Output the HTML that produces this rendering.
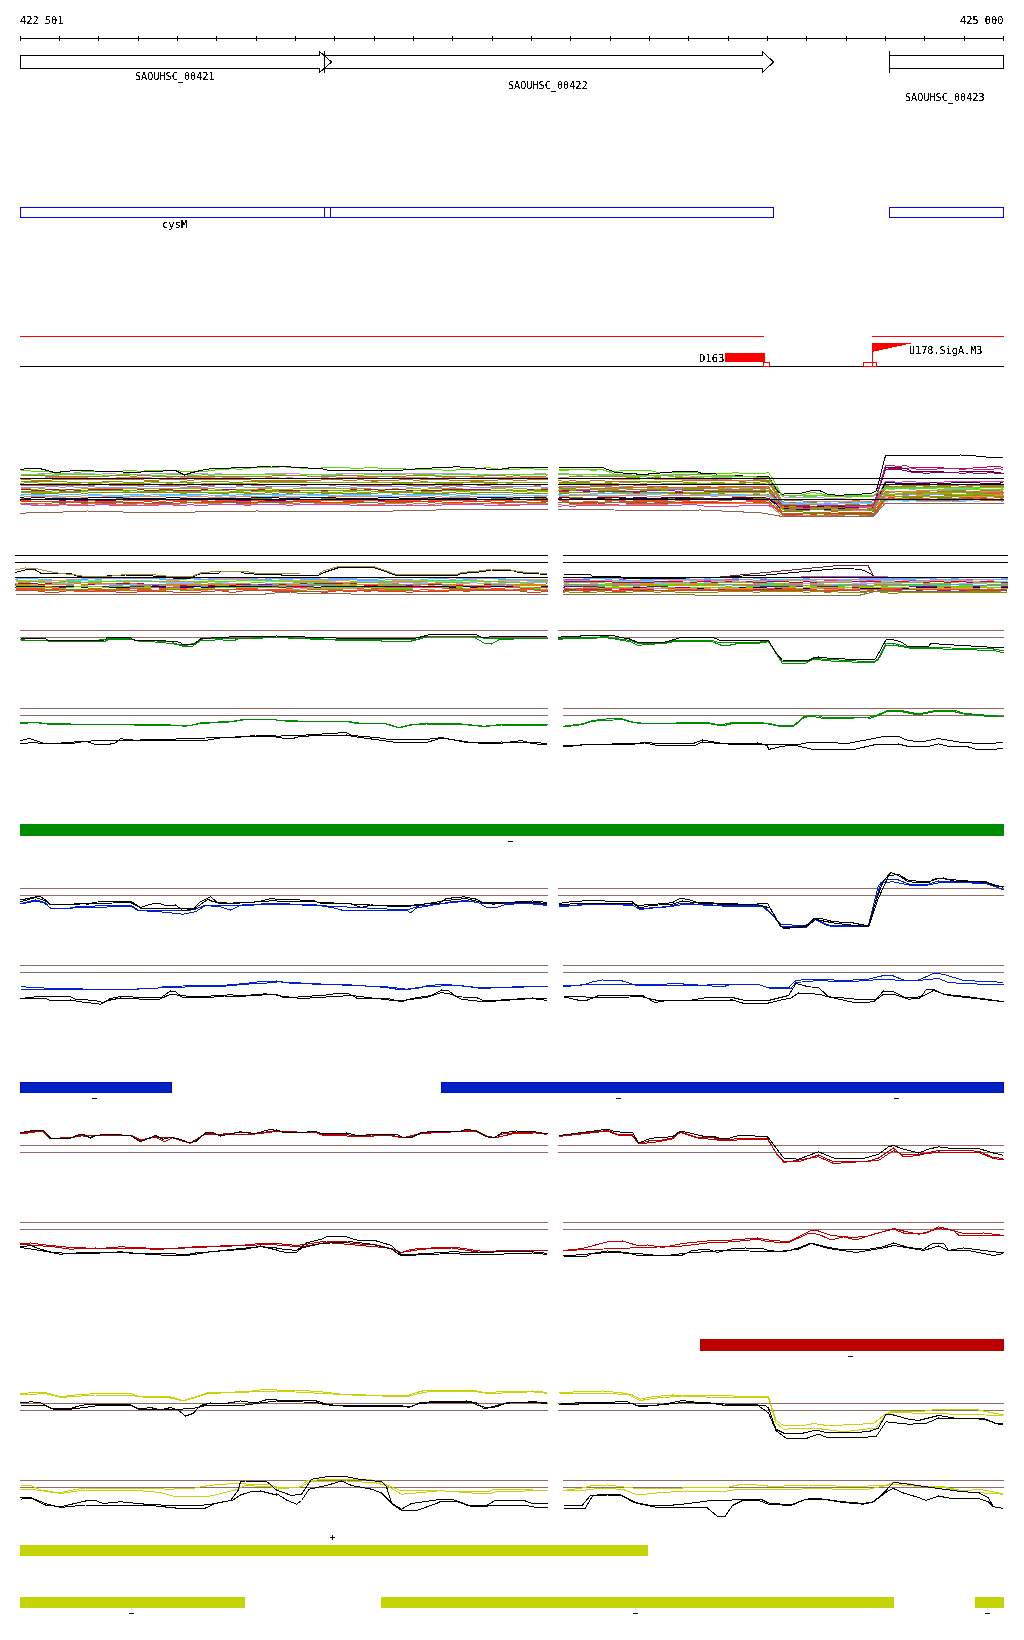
<!DOCTYPE html>
<html><head><meta charset="utf-8"><title>Genome browser</title>
<style>
html,body{margin:0;padding:0;background:#fff;}
svg{display:block;}
text{font-family:"DejaVu Sans Mono","Liberation Mono",monospace;font-size:11px;}
</style></head>
<body>
<svg width="1024" height="1640" viewBox="0 0 1024 1640" shape-rendering="crispEdges">
<defs><filter id="crisp" x="-10%" y="-30%" width="120%" height="160%"><feComponentTransfer><feFuncA type="discrete" tableValues="0 0 1 1 1"/></feComponentTransfer></filter></defs>
<rect width="1024" height="1640" fill="#fff"/>
<text x="20" y="24" textLength="43.5" lengthAdjust="spacingAndGlyphs" fill="#000" filter="url(#crisp)">422 501</text>
<text x="960" y="24" textLength="43.5" lengthAdjust="spacingAndGlyphs" fill="#000" filter="url(#crisp)">425 000</text>
<line x1="20" y1="38.5" x2="1004" y2="38.5" stroke="#000" stroke-width="1"/>
<line x1="20.5" y1="36" x2="20.5" y2="41" stroke="#000"/>
<line x1="59.5" y1="36" x2="59.5" y2="41" stroke="#000"/>
<line x1="98.5" y1="36" x2="98.5" y2="41" stroke="#000"/>
<line x1="138.5" y1="36" x2="138.5" y2="41" stroke="#000"/>
<line x1="177.5" y1="36" x2="177.5" y2="41" stroke="#000"/>
<line x1="216.5" y1="36" x2="216.5" y2="41" stroke="#000"/>
<line x1="256.5" y1="36" x2="256.5" y2="41" stroke="#000"/>
<line x1="295.5" y1="36" x2="295.5" y2="41" stroke="#000"/>
<line x1="334.5" y1="36" x2="334.5" y2="41" stroke="#000"/>
<line x1="374.5" y1="36" x2="374.5" y2="41" stroke="#000"/>
<line x1="413.5" y1="36" x2="413.5" y2="41" stroke="#000"/>
<line x1="452.5" y1="36" x2="452.5" y2="41" stroke="#000"/>
<line x1="492.5" y1="36" x2="492.5" y2="41" stroke="#000"/>
<line x1="531.5" y1="36" x2="531.5" y2="41" stroke="#000"/>
<line x1="570.5" y1="36" x2="570.5" y2="41" stroke="#000"/>
<line x1="610.5" y1="36" x2="610.5" y2="41" stroke="#000"/>
<line x1="649.5" y1="36" x2="649.5" y2="41" stroke="#000"/>
<line x1="688.5" y1="36" x2="688.5" y2="41" stroke="#000"/>
<line x1="728.5" y1="36" x2="728.5" y2="41" stroke="#000"/>
<line x1="767.5" y1="36" x2="767.5" y2="41" stroke="#000"/>
<line x1="806.5" y1="36" x2="806.5" y2="41" stroke="#000"/>
<line x1="846.5" y1="36" x2="846.5" y2="41" stroke="#000"/>
<line x1="885.5" y1="36" x2="885.5" y2="41" stroke="#000"/>
<line x1="924.5" y1="36" x2="924.5" y2="41" stroke="#000"/>
<line x1="964.5" y1="36" x2="964.5" y2="41" stroke="#000"/>
<line x1="1003.5" y1="36" x2="1003.5" y2="41" stroke="#000"/>
<polygon points="20.5,55.5 319.5,55.5 319.5,51.5 331.5,62 319.5,72.5 319.5,68.5 20.5,68.5" fill="none" stroke="#000"/>
<polyline points="324.5,55.5 762.5,55.5 762.5,51.5 773.5,62 762.5,72.5 762.5,68.5 324.5,68.5" fill="none" stroke="#000"/>
<line x1="324.5" y1="51" x2="324.5" y2="73" stroke="#000"/>
<polyline points="889.5,55.5 1003.5,55.5 1003.5,68.5 889.5,68.5" fill="none" stroke="#000"/>
<line x1="889.5" y1="51" x2="889.5" y2="73" stroke="#000"/>
<text x="135" y="80" textLength="79.5" lengthAdjust="spacingAndGlyphs" fill="#000" filter="url(#crisp)">SAOUHSC_00421</text>
<text x="508" y="89" textLength="79.5" lengthAdjust="spacingAndGlyphs" fill="#000" filter="url(#crisp)">SAOUHSC_00422</text>
<text x="905" y="101" textLength="79.5" lengthAdjust="spacingAndGlyphs" fill="#000" filter="url(#crisp)">SAOUHSC_00423</text>
<rect x="20.5" y="207.5" width="310" height="10" fill="none" stroke="#0000ff"/>
<rect x="324.5" y="207.5" width="449" height="10" fill="none" stroke="#0000ff"/>
<rect x="889.5" y="207.5" width="114" height="10" fill="none" stroke="#0000ff"/>
<text x="162" y="228" textLength="25.5" lengthAdjust="spacingAndGlyphs" fill="#000" filter="url(#crisp)">cysM</text>
<line x1="20" y1="336.5" x2="764" y2="336.5" stroke="#ff0000" stroke-width="1"/>
<line x1="872" y1="336.5" x2="1004" y2="336.5" stroke="#ff0000" stroke-width="1"/>
<line x1="20" y1="366.5" x2="1004" y2="366.5" stroke="#000" stroke-width="1"/>
<rect x="725" y="353" width="40" height="9" fill="#ff0000"/>
<rect x="763.5" y="362.5" width="6" height="4" fill="#fff" stroke="#ff0000"/>
<text x="699" y="362" textLength="25.5" lengthAdjust="spacingAndGlyphs" fill="#000" filter="url(#crisp)">D163</text>
<rect x="863.5" y="362.5" width="13" height="4" fill="#fff" stroke="#ff0000"/>
<line x1="872.5" y1="343" x2="872.5" y2="367" stroke="#ff0000"/>
<polygon points="872,343 913,343 872,352" fill="#ff0000"/>
<text x="909" y="354" textLength="73.5" lengthAdjust="spacingAndGlyphs" fill="#000" filter="url(#crisp)">U178.SigA.M3</text>
<rect x="20" y="824" width="984" height="12" fill="#008800"/><rect x="21" y="825" width="982" height="10" fill="#008c00"/>
<rect x="508" y="841" width="5" height="1" fill="#000"/>
<rect x="20" y="1082" width="152" height="11" fill="#0010c0"/><rect x="21" y="1083" width="150" height="9" fill="#0022c4"/>
<rect x="92" y="1098" width="5" height="1" fill="#000"/>
<rect x="441" y="1082" width="563" height="11" fill="#0010c0"/><rect x="442" y="1083" width="561" height="9" fill="#0022c4"/>
<rect x="616" y="1098" width="5" height="1" fill="#000"/>
<rect x="894" y="1098" width="5" height="1" fill="#000"/>
<rect x="700" y="1339" width="304" height="12" fill="#b80000"/><rect x="701" y="1340" width="302" height="10" fill="#bc0000"/>
<rect x="848" y="1356" width="5" height="1" fill="#000"/>
<rect x="20" y="1545" width="628" height="11" fill="#c2d203"/><rect x="21" y="1546" width="626" height="9" fill="#c4d406"/>
<rect x="330" y="1537" width="5" height="1" fill="#000"/><rect x="332" y="1535" width="1" height="5" fill="#000"/>
<rect x="20" y="1597" width="225" height="11" fill="#c2d203"/><rect x="21" y="1598" width="223" height="9" fill="#c4d406"/>
<rect x="129" y="1613" width="5" height="1" fill="#000"/>
<rect x="381" y="1597" width="513" height="11" fill="#c2d203"/><rect x="382" y="1598" width="511" height="9" fill="#c4d406"/>
<rect x="633" y="1613" width="5" height="1" fill="#000"/>
<rect x="975" y="1597" width="29" height="11" fill="#c2d203"/><rect x="976" y="1598" width="27" height="9" fill="#c4d406"/>
<rect x="985" y="1613" width="5" height="1" fill="#000"/>
<polyline points="20.5,470.5 27.5,470.5 34.5,471.5 48.5,471.5 55.5,473.5 70.5,473.5 77.5,472.5 84.5,471.5 119.5,471.5 126.5,470.5 133.5,470.5 140.5,471.5 147.5,470.5 176.5,470.5 183.5,471.5 204.5,471.5 211.5,470.5 218.5,469.5 225.5,469.5 232.5,468.5 239.5,469.5 247.5,468.5 254.5,467.5 275.5,467.5 282.5,466.5 289.5,467.5 296.5,467.5 303.5,468.5 317.5,468.5 324.5,467.5 346.5,467.5 353.5,468.5 360.5,468.5 367.5,467.5 374.5,467.5 381.5,468.5 402.5,468.5 409.5,469.5 438.5,469.5 445.5,470.5 452.5,470.5 459.5,469.5 473.5,469.5 480.5,468.5 487.5,467.5 494.5,468.5 501.5,469.5 516.5,469.5 523.5,468.5 530.5,468.5 537.5,469.5 547.5,469.5" fill="none" stroke="#55dd00" stroke-width="1"/>
<polyline points="20.5,474.5 34.5,474.5 41.5,473.5 48.5,473.5 55.5,474.5 62.5,474.5 70.5,473.5 91.5,473.5 98.5,474.5 105.5,473.5 112.5,473.5 119.5,474.5 126.5,473.5 133.5,474.5 147.5,474.5 155.5,473.5 176.5,473.5 183.5,474.5 190.5,474.5 197.5,473.5 204.5,473.5 211.5,474.5 218.5,473.5 225.5,474.5 261.5,474.5 268.5,473.5 296.5,473.5 303.5,474.5 332.5,474.5 339.5,473.5 466.5,473.5 473.5,474.5 530.5,474.5 537.5,473.5 544.5,473.5 547.5,474.5" fill="none" stroke="#bb99dd" stroke-width="1"/>
<polyline points="20.5,474.5 41.5,474.5 48.5,475.5 55.5,475.5 62.5,474.5 98.5,474.5 105.5,475.5 112.5,475.5 119.5,474.5 133.5,474.5 140.5,475.5 162.5,475.5 169.5,474.5 183.5,474.5 190.5,475.5 197.5,475.5 204.5,474.5 211.5,475.5 218.5,474.5 282.5,474.5 289.5,475.5 296.5,475.5 303.5,474.5 317.5,474.5 324.5,475.5 332.5,475.5 339.5,474.5 346.5,475.5 360.5,475.5 367.5,474.5 402.5,474.5 409.5,475.5 416.5,474.5 431.5,474.5 438.5,475.5 445.5,474.5 473.5,474.5 480.5,475.5 487.5,474.5 494.5,475.5 501.5,474.5 547.5,474.5" fill="none" stroke="#44ee00" stroke-width="1"/>
<polyline points="20.5,475.5 41.5,475.5 48.5,476.5 105.5,476.5 112.5,475.5 126.5,475.5 133.5,476.5 140.5,475.5 147.5,475.5 155.5,476.5 268.5,476.5 275.5,475.5 303.5,475.5 310.5,476.5 332.5,476.5 339.5,475.5 353.5,475.5 360.5,476.5 402.5,476.5 409.5,475.5 431.5,475.5 438.5,476.5 480.5,476.5 487.5,475.5 501.5,475.5 509.5,476.5 516.5,475.5 523.5,476.5 544.5,476.5 547.5,475.5" fill="none" stroke="#aa7744" stroke-width="1"/>
<polyline points="20.5,478.5 41.5,478.5 48.5,477.5 84.5,477.5 91.5,478.5 112.5,478.5 119.5,477.5 147.5,477.5 155.5,478.5 162.5,478.5 169.5,477.5 176.5,478.5 183.5,477.5 211.5,477.5 218.5,478.5 225.5,477.5 239.5,477.5 247.5,478.5 261.5,478.5 268.5,477.5 275.5,477.5 282.5,478.5 289.5,477.5 296.5,478.5 317.5,478.5 324.5,477.5 332.5,478.5 339.5,477.5 374.5,477.5 381.5,478.5 388.5,478.5 395.5,477.5 424.5,477.5 431.5,478.5 438.5,478.5 445.5,477.5 452.5,477.5 459.5,478.5 466.5,478.5 473.5,477.5 547.5,477.5" fill="none" stroke="#dd8866" stroke-width="1"/>
<polyline points="20.5,479.5 27.5,479.5 34.5,480.5 48.5,480.5 55.5,479.5 140.5,479.5 147.5,480.5 155.5,480.5 162.5,479.5 183.5,479.5 190.5,480.5 197.5,479.5 247.5,479.5 254.5,480.5 317.5,480.5 324.5,479.5 339.5,479.5 346.5,480.5 353.5,480.5 360.5,479.5 367.5,480.5 395.5,480.5 402.5,479.5 409.5,479.5 416.5,480.5 424.5,479.5 445.5,479.5 452.5,480.5 494.5,480.5 501.5,479.5 509.5,479.5 516.5,480.5 523.5,480.5 530.5,479.5 547.5,479.5" fill="none" stroke="#cc6622" stroke-width="1"/>
<polyline points="20.5,481.5 62.5,481.5 70.5,482.5 98.5,482.5 105.5,481.5 119.5,481.5 126.5,482.5 140.5,482.5 147.5,481.5 155.5,481.5 162.5,482.5 176.5,482.5 183.5,481.5 190.5,482.5 197.5,482.5 204.5,481.5 225.5,481.5 232.5,482.5 239.5,482.5 247.5,481.5 303.5,481.5 310.5,482.5 367.5,482.5 374.5,481.5 381.5,482.5 416.5,482.5 424.5,481.5 431.5,482.5 466.5,482.5 473.5,481.5 480.5,481.5 487.5,482.5 547.5,482.5" fill="none" stroke="#779900" stroke-width="1"/>
<polyline points="20.5,483.5 27.5,482.5 34.5,482.5 41.5,483.5 77.5,483.5 84.5,482.5 91.5,483.5 98.5,483.5 105.5,482.5 112.5,483.5 147.5,483.5 155.5,482.5 162.5,482.5 169.5,483.5 176.5,482.5 183.5,482.5 190.5,483.5 197.5,482.5 204.5,483.5 254.5,483.5 261.5,482.5 388.5,482.5 395.5,483.5 409.5,483.5 416.5,482.5 431.5,482.5 438.5,483.5 459.5,483.5 466.5,482.5 480.5,482.5 487.5,483.5 494.5,483.5 501.5,482.5 509.5,483.5 516.5,482.5 547.5,482.5" fill="none" stroke="#88aa22" stroke-width="1"/>
<polyline points="20.5,485.5 91.5,485.5 98.5,484.5 105.5,484.5 112.5,485.5 140.5,485.5 147.5,484.5 155.5,484.5 162.5,485.5 183.5,485.5 190.5,486.5 197.5,486.5 204.5,485.5 211.5,485.5 218.5,484.5 232.5,484.5 239.5,485.5 247.5,484.5 254.5,485.5 261.5,485.5 268.5,486.5 296.5,486.5 303.5,485.5 310.5,484.5 324.5,484.5 332.5,485.5 339.5,486.5 346.5,486.5 353.5,485.5 388.5,485.5 395.5,484.5 402.5,484.5 409.5,485.5 431.5,485.5 438.5,486.5 445.5,485.5 459.5,485.5 466.5,484.5 473.5,484.5 480.5,485.5 487.5,485.5 494.5,486.5 530.5,486.5 537.5,485.5 544.5,484.5 547.5,484.5" fill="none" stroke="#cc6633" stroke-width="1"/>
<polyline points="20.5,487.5 41.5,487.5 48.5,486.5 55.5,486.5 62.5,487.5 70.5,486.5 77.5,487.5 84.5,487.5 91.5,486.5 98.5,487.5 133.5,487.5 140.5,486.5 176.5,486.5 183.5,487.5 204.5,487.5 211.5,486.5 218.5,487.5 232.5,487.5 239.5,486.5 247.5,487.5 268.5,487.5 275.5,486.5 296.5,486.5 303.5,487.5 332.5,487.5 339.5,486.5 346.5,486.5 353.5,487.5 360.5,486.5 402.5,486.5 409.5,487.5 416.5,486.5 424.5,486.5 431.5,487.5 438.5,487.5 445.5,486.5 452.5,487.5 459.5,486.5 466.5,486.5 473.5,487.5 509.5,487.5 516.5,486.5 537.5,486.5 544.5,487.5 547.5,487.5" fill="none" stroke="#8899ee" stroke-width="1"/>
<polyline points="20.5,488.5 27.5,488.5 34.5,489.5 41.5,488.5 48.5,489.5 77.5,489.5 84.5,488.5 211.5,488.5 218.5,489.5 254.5,489.5 261.5,488.5 268.5,488.5 275.5,489.5 289.5,489.5 296.5,488.5 367.5,488.5 374.5,489.5 388.5,489.5 395.5,488.5 402.5,489.5 409.5,488.5 416.5,488.5 424.5,489.5 431.5,488.5 459.5,488.5 466.5,489.5 487.5,489.5 494.5,488.5 501.5,488.5 509.5,489.5 516.5,488.5 523.5,488.5 530.5,489.5 537.5,489.5 544.5,488.5 547.5,488.5" fill="none" stroke="#aaaa00" stroke-width="1"/>
<polyline points="20.5,489.5 27.5,489.5 34.5,490.5 41.5,490.5 48.5,489.5 55.5,489.5 62.5,490.5 70.5,489.5 77.5,490.5 84.5,490.5 91.5,489.5 119.5,489.5 126.5,490.5 133.5,490.5 140.5,489.5 147.5,490.5 155.5,490.5 162.5,489.5 169.5,489.5 176.5,490.5 197.5,490.5 204.5,489.5 211.5,490.5 218.5,490.5 225.5,489.5 232.5,489.5 239.5,490.5 254.5,490.5 261.5,489.5 268.5,490.5 346.5,490.5 353.5,489.5 360.5,490.5 367.5,489.5 374.5,489.5 381.5,490.5 388.5,489.5 402.5,489.5 409.5,490.5 438.5,490.5 445.5,489.5 487.5,489.5 494.5,490.5 523.5,490.5 530.5,489.5 537.5,490.5 544.5,489.5 547.5,489.5" fill="none" stroke="#bb0055" stroke-width="1"/>
<polyline points="20.5,492.5 55.5,492.5 62.5,491.5 84.5,491.5 91.5,492.5 119.5,492.5 126.5,491.5 133.5,492.5 147.5,492.5 155.5,491.5 162.5,491.5 169.5,492.5 225.5,492.5 232.5,491.5 239.5,491.5 247.5,492.5 254.5,491.5 282.5,491.5 289.5,492.5 339.5,492.5 346.5,491.5 353.5,491.5 360.5,492.5 367.5,492.5 374.5,491.5 381.5,492.5 431.5,492.5 438.5,491.5 445.5,492.5 452.5,492.5 459.5,491.5 466.5,491.5 473.5,492.5 509.5,492.5 516.5,491.5 523.5,491.5 530.5,492.5 537.5,491.5 547.5,491.5" fill="none" stroke="#99aa00" stroke-width="1"/>
<polyline points="20.5,492.5 27.5,492.5 34.5,493.5 55.5,493.5 62.5,492.5 77.5,492.5 84.5,493.5 91.5,492.5 176.5,492.5 183.5,493.5 190.5,492.5 204.5,492.5 211.5,493.5 225.5,493.5 232.5,492.5 239.5,492.5 247.5,493.5 261.5,493.5 268.5,492.5 275.5,493.5 282.5,492.5 289.5,493.5 296.5,492.5 303.5,492.5 310.5,493.5 317.5,492.5 324.5,493.5 374.5,493.5 381.5,492.5 388.5,492.5 395.5,493.5 402.5,492.5 409.5,492.5 416.5,493.5 445.5,493.5 452.5,492.5 459.5,493.5 473.5,493.5 480.5,492.5 509.5,492.5 516.5,493.5 547.5,493.5" fill="none" stroke="#779911" stroke-width="1"/>
<polyline points="20.5,494.5 41.5,494.5 48.5,495.5 55.5,495.5 62.5,494.5 77.5,494.5 84.5,495.5 91.5,494.5 98.5,494.5 105.5,495.5 119.5,495.5 126.5,494.5 140.5,494.5 147.5,495.5 155.5,494.5 204.5,494.5 211.5,495.5 218.5,495.5 225.5,494.5 232.5,495.5 239.5,494.5 324.5,494.5 332.5,495.5 339.5,495.5 346.5,494.5 367.5,494.5 374.5,495.5 388.5,495.5 395.5,494.5 452.5,494.5 459.5,495.5 466.5,495.5 473.5,494.5 509.5,494.5 516.5,495.5 547.5,495.5" fill="none" stroke="#55bbff" stroke-width="1"/>
<polyline points="20.5,495.5 27.5,496.5 34.5,495.5 48.5,495.5 55.5,496.5 77.5,496.5 84.5,495.5 105.5,495.5 112.5,496.5 126.5,496.5 133.5,495.5 140.5,495.5 147.5,496.5 155.5,496.5 162.5,495.5 197.5,495.5 204.5,496.5 211.5,495.5 218.5,496.5 225.5,495.5 232.5,496.5 239.5,496.5 247.5,495.5 254.5,496.5 268.5,496.5 275.5,495.5 282.5,495.5 289.5,496.5 303.5,496.5 310.5,495.5 324.5,495.5 332.5,496.5 339.5,495.5 374.5,495.5 381.5,496.5 402.5,496.5 409.5,495.5 431.5,495.5 438.5,496.5 445.5,495.5 452.5,496.5 509.5,496.5 516.5,495.5 530.5,495.5 537.5,496.5 544.5,495.5 547.5,496.5" fill="none" stroke="#77ccff" stroke-width="1"/>
<polyline points="20.5,497.5 27.5,496.5 48.5,496.5 55.5,497.5 62.5,497.5 70.5,496.5 77.5,496.5 84.5,497.5 98.5,497.5 105.5,496.5 112.5,497.5 126.5,497.5 133.5,496.5 162.5,496.5 169.5,497.5 183.5,497.5 190.5,496.5 204.5,496.5 211.5,497.5 232.5,497.5 239.5,496.5 254.5,496.5 261.5,497.5 268.5,497.5 275.5,496.5 282.5,496.5 289.5,497.5 324.5,497.5 332.5,496.5 374.5,496.5 381.5,497.5 395.5,497.5 402.5,496.5 416.5,496.5 424.5,497.5 431.5,497.5 438.5,496.5 445.5,497.5 466.5,497.5 473.5,496.5 480.5,497.5 530.5,497.5 537.5,496.5 544.5,496.5 547.5,497.5" fill="none" stroke="#ee8855" stroke-width="1"/>
<polyline points="20.5,498.5 27.5,498.5 34.5,499.5 41.5,499.5 48.5,498.5 70.5,498.5 77.5,499.5 112.5,499.5 119.5,498.5 126.5,499.5 133.5,498.5 140.5,498.5 147.5,499.5 155.5,498.5 162.5,498.5 169.5,499.5 176.5,499.5 183.5,498.5 268.5,498.5 275.5,497.5 282.5,498.5 289.5,499.5 296.5,498.5 303.5,499.5 317.5,499.5 324.5,498.5 360.5,498.5 367.5,499.5 424.5,499.5 431.5,498.5 438.5,499.5 445.5,499.5 452.5,498.5 459.5,499.5 487.5,499.5 494.5,498.5 516.5,498.5 523.5,497.5 530.5,497.5 537.5,498.5 547.5,498.5" fill="none" stroke="#778800" stroke-width="1"/>
<polyline points="20.5,500.5 27.5,499.5 55.5,499.5 62.5,500.5 70.5,499.5 77.5,500.5 112.5,500.5 119.5,499.5 218.5,499.5 225.5,500.5 282.5,500.5 289.5,499.5 296.5,500.5 332.5,500.5 339.5,499.5 360.5,499.5 367.5,500.5 395.5,500.5 402.5,499.5 409.5,500.5 416.5,499.5 438.5,499.5 445.5,500.5 466.5,500.5 473.5,499.5 487.5,499.5 494.5,500.5 501.5,499.5 537.5,499.5 544.5,500.5 547.5,500.5" fill="none" stroke="#550077" stroke-width="1"/>
<polyline points="20.5,500.5 27.5,500.5 34.5,501.5 84.5,501.5 91.5,500.5 98.5,501.5 119.5,501.5 126.5,500.5 155.5,500.5 162.5,501.5 169.5,500.5 204.5,500.5 211.5,501.5 218.5,500.5 232.5,500.5 239.5,501.5 247.5,501.5 254.5,500.5 261.5,500.5 268.5,501.5 289.5,501.5 296.5,500.5 374.5,500.5 381.5,501.5 388.5,500.5 416.5,500.5 424.5,501.5 431.5,500.5 473.5,500.5 480.5,501.5 487.5,500.5 509.5,500.5 516.5,501.5 523.5,501.5 530.5,500.5 547.5,500.5" fill="none" stroke="#ff4422" stroke-width="1"/>
<polyline points="20.5,501.5 55.5,501.5 62.5,502.5 140.5,502.5 147.5,501.5 155.5,502.5 169.5,502.5 176.5,501.5 183.5,501.5 190.5,502.5 197.5,502.5 204.5,501.5 232.5,501.5 239.5,502.5 254.5,502.5 261.5,501.5 317.5,501.5 324.5,502.5 339.5,502.5 346.5,501.5 360.5,501.5 367.5,502.5 374.5,502.5 381.5,501.5 438.5,501.5 445.5,502.5 459.5,502.5 466.5,501.5 487.5,501.5 494.5,502.5 501.5,502.5 509.5,501.5 516.5,502.5 537.5,502.5 544.5,501.5 547.5,501.5" fill="none" stroke="#dd3322" stroke-width="1"/>
<polyline points="20.5,503.5 48.5,503.5 55.5,502.5 62.5,503.5 70.5,502.5 77.5,502.5 84.5,503.5 91.5,502.5 98.5,503.5 112.5,503.5 119.5,502.5 126.5,503.5 176.5,503.5 183.5,502.5 232.5,502.5 239.5,503.5 254.5,503.5 261.5,502.5 289.5,502.5 296.5,503.5 303.5,502.5 317.5,502.5 324.5,503.5 332.5,502.5 374.5,502.5 381.5,503.5 388.5,502.5 409.5,502.5 416.5,503.5 424.5,503.5 431.5,502.5 438.5,503.5 445.5,502.5 452.5,503.5 501.5,503.5 509.5,502.5 544.5,502.5 547.5,503.5" fill="none" stroke="#887733" stroke-width="1"/>
<polyline points="20.5,503.5 27.5,504.5 34.5,504.5 41.5,503.5 48.5,504.5 84.5,504.5 91.5,503.5 98.5,503.5 105.5,504.5 133.5,504.5 140.5,503.5 147.5,504.5 176.5,504.5 183.5,503.5 190.5,504.5 197.5,503.5 218.5,503.5 225.5,504.5 247.5,504.5 254.5,503.5 261.5,504.5 275.5,504.5 282.5,503.5 296.5,503.5 303.5,504.5 310.5,504.5 317.5,503.5 353.5,503.5 360.5,504.5 381.5,504.5 388.5,503.5 402.5,503.5 409.5,504.5 416.5,503.5 424.5,503.5 431.5,504.5 438.5,503.5 466.5,503.5 473.5,504.5 480.5,504.5 487.5,503.5 494.5,503.5 501.5,504.5 523.5,504.5 530.5,503.5 547.5,503.5" fill="none" stroke="#ee7722" stroke-width="1"/>
<polyline points="20.5,504.5 27.5,504.5 34.5,505.5 55.5,505.5 62.5,504.5 70.5,505.5 91.5,505.5 98.5,504.5 105.5,504.5 112.5,505.5 155.5,505.5 162.5,504.5 169.5,504.5 176.5,505.5 183.5,505.5 190.5,504.5 197.5,505.5 204.5,505.5 211.5,504.5 239.5,504.5 247.5,505.5 254.5,504.5 282.5,504.5 289.5,505.5 296.5,504.5 346.5,504.5 353.5,505.5 438.5,505.5 445.5,504.5 480.5,504.5 487.5,505.5 516.5,505.5 523.5,504.5 547.5,504.5" fill="none" stroke="#cc44bb" stroke-width="1"/>
<polyline points="20.5,497.5 27.5,498.5 34.5,497.5 41.5,497.5 48.5,498.5 84.5,498.5 91.5,497.5 119.5,497.5 126.5,498.5 162.5,498.5 169.5,497.5 176.5,497.5 183.5,498.5 247.5,498.5 254.5,497.5 275.5,497.5 282.5,498.5 296.5,498.5 303.5,497.5 332.5,497.5 339.5,498.5 374.5,498.5 381.5,497.5 395.5,497.5 402.5,498.5 424.5,498.5 431.5,497.5 438.5,498.5 473.5,498.5 480.5,497.5 501.5,497.5 509.5,498.5 516.5,497.5 544.5,497.5 547.5,498.5" fill="none" stroke="#000044" stroke-width="1"/>
<polyline points="20.5,491.5 48.5,491.5 55.5,490.5 62.5,491.5 77.5,491.5 84.5,490.5 133.5,490.5 140.5,491.5 155.5,491.5 162.5,490.5 169.5,490.5 176.5,491.5 197.5,491.5 204.5,490.5 225.5,490.5 232.5,491.5 239.5,490.5 247.5,490.5 254.5,491.5 261.5,490.5 275.5,490.5 282.5,491.5 296.5,491.5 303.5,490.5 317.5,490.5 324.5,491.5 332.5,490.5 367.5,490.5 374.5,491.5 409.5,491.5 416.5,490.5 424.5,491.5 438.5,491.5 445.5,490.5 547.5,490.5" fill="none" stroke="#66aa00" stroke-width="1"/>
<polyline points="20.5,470.0 27.5,468.0 37.5,468.0 45.5,470.0 52.5,472.0 60.5,472.0 75.5,470.5 112.5,471.5 132.5,472.5 150.5,471.5 175.5,470.5 184.5,475.0 190.5,473.0 200.5,470.5 212.5,468.5 250.5,467.5 271.5,466.0 286.5,466.0 293.5,467.5 321.5,468.5 326.5,470.0 348.5,471.0 363.5,470.5 381.5,471.0 396.5,470.5 421.5,468.5 443.5,467.5 456.5,466.8 468.5,467.5 481.5,468.5 493.5,470.0 506.5,468.5 512.5,467.0 547.5,467.0" fill="none" stroke="#000" stroke-width="1"/>
<polyline points="20.5,513.5 32.5,512.5 75.5,511.8 87.5,511.0 120.5,511.8 135.5,513.0 207.5,511.8 256.5,511.0 341.5,512.0 393.5,511.0 436.5,510.0 473.5,509.2 512.5,509.5 547.5,510.0" fill="none" stroke="#886655" stroke-width="1"/>
<polyline points="558.5,470.5 565.5,470.5 572.5,469.5 586.5,469.5 593.5,470.5 601.5,469.5 608.5,471.5 615.5,471.5 622.5,470.5 650.5,470.5 657.5,472.5 693.5,472.5 700.5,473.5 728.5,473.5 735.5,472.5 742.5,473.5 763.5,473.5 768.5,472.5 770.5,475.5 771.5,476.5 775.5,483.5 778.5,488.5 779.5,491.5 782.5,495.5 785.5,495.5 792.5,496.5 799.5,495.5 820.5,495.5 827.5,496.5 834.5,495.5 848.5,495.5 855.5,496.5 873.5,496.5 876.5,493.5 877.5,493.5 879.5,492.5 882.5,489.5 884.5,487.5 940.5,487.5 947.5,488.5 955.5,487.5 969.5,487.5 976.5,488.5 983.5,487.5 997.5,487.5 1003.5,488.5" fill="none" stroke="#55dd00" stroke-width="1"/>
<polyline points="558.5,473.5 565.5,474.5 615.5,474.5 622.5,475.5 629.5,475.5 636.5,476.5 643.5,476.5 650.5,475.5 657.5,475.5 664.5,474.5 671.5,474.5 678.5,475.5 686.5,475.5 693.5,476.5 707.5,476.5 714.5,477.5 728.5,477.5 735.5,476.5 749.5,476.5 756.5,477.5 763.5,476.5 768.5,477.5 770.5,480.5 771.5,481.5 775.5,487.5 778.5,491.5 779.5,492.5 782.5,496.5 785.5,497.5 820.5,497.5 827.5,498.5 841.5,498.5 848.5,497.5 855.5,496.5 873.5,496.5 876.5,494.5 877.5,494.5 879.5,492.5 882.5,490.5 884.5,489.5 885.5,488.5 891.5,489.5 898.5,488.5 905.5,488.5 912.5,489.5 919.5,488.5 926.5,487.5 933.5,488.5 940.5,487.5 947.5,488.5 969.5,488.5 976.5,489.5 1003.5,489.5" fill="none" stroke="#bb99dd" stroke-width="1"/>
<polyline points="558.5,474.5 565.5,473.5 572.5,474.5 579.5,475.5 586.5,474.5 593.5,474.5 601.5,475.5 615.5,475.5 622.5,476.5 643.5,476.5 650.5,475.5 657.5,476.5 664.5,475.5 671.5,476.5 678.5,476.5 686.5,477.5 700.5,477.5 707.5,476.5 768.5,476.5 770.5,479.5 771.5,481.5 775.5,486.5 778.5,490.5 779.5,492.5 782.5,496.5 785.5,495.5 799.5,495.5 806.5,496.5 813.5,496.5 820.5,495.5 873.5,495.5 876.5,493.5 879.5,493.5 882.5,491.5 884.5,490.5 885.5,488.5 933.5,488.5 940.5,489.5 1003.5,489.5" fill="none" stroke="#44ee00" stroke-width="1"/>
<polyline points="558.5,477.5 565.5,477.5 572.5,476.5 622.5,476.5 629.5,477.5 636.5,477.5 643.5,478.5 650.5,477.5 657.5,477.5 664.5,478.5 671.5,478.5 678.5,477.5 693.5,477.5 700.5,479.5 721.5,479.5 728.5,478.5 749.5,478.5 756.5,479.5 763.5,479.5 768.5,478.5 770.5,481.5 771.5,482.5 775.5,489.5 778.5,494.5 779.5,496.5 782.5,501.5 785.5,500.5 799.5,500.5 806.5,501.5 848.5,501.5 855.5,500.5 863.5,501.5 870.5,501.5 873.5,500.5 876.5,498.5 877.5,497.5 879.5,496.5 882.5,492.5 884.5,490.5 885.5,491.5 926.5,491.5 933.5,490.5 962.5,490.5 969.5,491.5 976.5,491.5 983.5,490.5 997.5,490.5 1003.5,491.5" fill="none" stroke="#aa7744" stroke-width="1"/>
<polyline points="558.5,477.5 565.5,477.5 572.5,478.5 608.5,478.5 615.5,479.5 636.5,479.5 643.5,478.5 650.5,478.5 657.5,479.5 707.5,479.5 714.5,480.5 721.5,479.5 728.5,479.5 735.5,480.5 756.5,480.5 763.5,479.5 768.5,480.5 770.5,483.5 771.5,484.5 775.5,491.5 778.5,495.5 779.5,497.5 782.5,502.5 813.5,502.5 820.5,501.5 863.5,501.5 870.5,502.5 873.5,502.5 876.5,499.5 877.5,497.5 879.5,496.5 882.5,494.5 884.5,492.5 885.5,491.5 912.5,491.5 919.5,490.5 947.5,490.5 955.5,491.5 997.5,491.5 1003.5,490.5" fill="none" stroke="#dd8866" stroke-width="1"/>
<polyline points="558.5,480.5 565.5,481.5 572.5,480.5 579.5,481.5 586.5,481.5 593.5,480.5 601.5,480.5 608.5,481.5 678.5,481.5 686.5,480.5 735.5,480.5 742.5,481.5 749.5,480.5 768.5,480.5 770.5,485.5 771.5,486.5 775.5,491.5 778.5,497.5 779.5,498.5 782.5,502.5 792.5,502.5 799.5,503.5 806.5,502.5 813.5,502.5 820.5,503.5 841.5,503.5 848.5,502.5 855.5,503.5 863.5,502.5 870.5,502.5 873.5,503.5 876.5,501.5 877.5,500.5 879.5,498.5 882.5,494.5 884.5,492.5 885.5,491.5 891.5,492.5 898.5,491.5 905.5,492.5 947.5,492.5 955.5,491.5 962.5,491.5 969.5,492.5 976.5,491.5 983.5,492.5 1003.5,492.5" fill="none" stroke="#cc6622" stroke-width="1"/>
<polyline points="558.5,482.5 586.5,482.5 593.5,483.5 615.5,483.5 622.5,482.5 629.5,481.5 678.5,481.5 686.5,482.5 693.5,483.5 742.5,483.5 749.5,482.5 756.5,482.5 763.5,481.5 768.5,481.5 770.5,484.5 771.5,486.5 775.5,492.5 778.5,497.5 779.5,499.5 782.5,504.5 785.5,503.5 792.5,503.5 799.5,504.5 820.5,504.5 827.5,503.5 841.5,503.5 848.5,504.5 855.5,504.5 863.5,505.5 870.5,504.5 873.5,504.5 876.5,500.5 877.5,499.5 879.5,497.5 882.5,495.5 884.5,493.5 885.5,492.5 891.5,492.5 898.5,493.5 905.5,492.5 933.5,492.5 940.5,491.5 962.5,491.5 969.5,492.5 983.5,492.5 990.5,493.5 1003.5,493.5" fill="none" stroke="#779900" stroke-width="1"/>
<polyline points="558.5,483.5 601.5,483.5 608.5,482.5 615.5,483.5 622.5,482.5 636.5,482.5 643.5,483.5 650.5,482.5 657.5,482.5 664.5,483.5 686.5,483.5 693.5,482.5 700.5,483.5 707.5,483.5 714.5,482.5 721.5,482.5 728.5,483.5 735.5,483.5 742.5,482.5 749.5,482.5 756.5,483.5 763.5,483.5 768.5,482.5 770.5,486.5 771.5,487.5 775.5,493.5 778.5,498.5 779.5,500.5 782.5,504.5 813.5,504.5 820.5,505.5 827.5,504.5 834.5,505.5 873.5,505.5 876.5,502.5 877.5,501.5 879.5,499.5 882.5,496.5 884.5,493.5 885.5,492.5 891.5,492.5 898.5,493.5 905.5,492.5 962.5,492.5 969.5,493.5 976.5,493.5 983.5,492.5 990.5,493.5 1003.5,493.5" fill="none" stroke="#88aa22" stroke-width="1"/>
<polyline points="558.5,486.5 586.5,486.5 593.5,485.5 615.5,485.5 622.5,486.5 629.5,486.5 636.5,485.5 643.5,485.5 650.5,486.5 664.5,486.5 671.5,487.5 700.5,487.5 707.5,486.5 714.5,487.5 728.5,487.5 735.5,486.5 756.5,486.5 763.5,487.5 768.5,486.5 770.5,490.5 771.5,491.5 775.5,497.5 778.5,501.5 779.5,502.5 782.5,507.5 820.5,507.5 827.5,506.5 848.5,506.5 855.5,507.5 863.5,506.5 870.5,507.5 873.5,506.5 876.5,503.5 877.5,501.5 879.5,500.5 882.5,497.5 884.5,495.5 885.5,494.5 905.5,494.5 912.5,493.5 940.5,493.5 947.5,494.5 976.5,494.5 983.5,493.5 997.5,493.5 1003.5,494.5" fill="none" stroke="#cc6633" stroke-width="1"/>
<polyline points="558.5,487.5 579.5,487.5 586.5,486.5 601.5,486.5 608.5,487.5 615.5,487.5 622.5,486.5 629.5,487.5 657.5,487.5 664.5,488.5 728.5,488.5 735.5,487.5 756.5,487.5 763.5,488.5 768.5,487.5 770.5,489.5 771.5,490.5 775.5,494.5 778.5,498.5 779.5,500.5 782.5,503.5 799.5,503.5 806.5,502.5 813.5,503.5 834.5,503.5 841.5,502.5 848.5,503.5 855.5,502.5 873.5,502.5 876.5,500.5 877.5,499.5 879.5,498.5 882.5,496.5 884.5,494.5 898.5,494.5 905.5,495.5 912.5,494.5 940.5,494.5 947.5,495.5 976.5,495.5 983.5,494.5 997.5,494.5 1003.5,495.5" fill="none" stroke="#8899ee" stroke-width="1"/>
<polyline points="558.5,489.5 608.5,489.5 615.5,488.5 629.5,488.5 636.5,487.5 643.5,487.5 650.5,488.5 664.5,488.5 671.5,489.5 700.5,489.5 707.5,488.5 721.5,488.5 728.5,487.5 735.5,487.5 742.5,488.5 756.5,488.5 763.5,489.5 768.5,488.5 770.5,491.5 771.5,492.5 775.5,497.5 778.5,501.5 779.5,503.5 782.5,506.5 806.5,506.5 813.5,507.5 820.5,508.5 827.5,508.5 834.5,507.5 841.5,506.5 848.5,507.5 873.5,507.5 876.5,504.5 877.5,503.5 879.5,501.5 882.5,498.5 884.5,496.5 885.5,493.5 891.5,494.5 898.5,494.5 905.5,493.5 912.5,493.5 919.5,494.5 926.5,493.5 947.5,493.5 955.5,494.5 969.5,494.5 976.5,495.5 983.5,494.5 997.5,494.5 1003.5,493.5" fill="none" stroke="#aaaa00" stroke-width="1"/>
<polyline points="558.5,490.5 579.5,490.5 586.5,491.5 593.5,491.5 601.5,492.5 608.5,491.5 622.5,491.5 629.5,492.5 636.5,492.5 643.5,491.5 650.5,492.5 728.5,492.5 735.5,491.5 742.5,490.5 749.5,491.5 768.5,491.5 770.5,493.5 771.5,493.5 775.5,498.5 778.5,502.5 779.5,503.5 782.5,505.5 785.5,506.5 792.5,505.5 799.5,506.5 820.5,506.5 827.5,507.5 834.5,506.5 841.5,507.5 863.5,507.5 870.5,506.5 873.5,506.5 876.5,496.5 877.5,493.5 879.5,487.5 882.5,477.5 884.5,471.5 885.5,467.5 891.5,468.5 905.5,468.5 912.5,467.5 940.5,467.5 947.5,468.5 969.5,468.5 976.5,467.5 983.5,467.5 990.5,466.5 997.5,466.5 1003.5,467.5" fill="none" stroke="#bb0055" stroke-width="1"/>
<polyline points="558.5,492.5 586.5,492.5 593.5,491.5 601.5,492.5 608.5,491.5 615.5,492.5 629.5,492.5 636.5,493.5 643.5,492.5 657.5,492.5 664.5,493.5 671.5,492.5 678.5,491.5 686.5,492.5 763.5,492.5 768.5,491.5 770.5,494.5 771.5,495.5 775.5,500.5 778.5,503.5 779.5,505.5 782.5,508.5 785.5,508.5 792.5,507.5 799.5,508.5 820.5,508.5 827.5,509.5 863.5,509.5 870.5,508.5 873.5,508.5 876.5,505.5 877.5,504.5 879.5,502.5 882.5,499.5 884.5,497.5 885.5,496.5 1003.5,496.5" fill="none" stroke="#99aa00" stroke-width="1"/>
<polyline points="558.5,493.5 565.5,493.5 572.5,492.5 586.5,492.5 593.5,493.5 643.5,493.5 650.5,492.5 664.5,492.5 671.5,493.5 707.5,493.5 714.5,492.5 721.5,493.5 728.5,494.5 768.5,494.5 770.5,496.5 771.5,496.5 775.5,501.5 778.5,504.5 779.5,505.5 782.5,509.5 785.5,508.5 792.5,509.5 855.5,509.5 863.5,510.5 873.5,510.5 876.5,507.5 877.5,506.5 879.5,503.5 882.5,499.5 884.5,497.5 885.5,496.5 898.5,496.5 905.5,497.5 912.5,496.5 919.5,496.5 926.5,495.5 933.5,496.5 976.5,496.5 983.5,495.5 1003.5,495.5" fill="none" stroke="#779911" stroke-width="1"/>
<polyline points="558.5,494.5 565.5,495.5 572.5,494.5 586.5,494.5 593.5,493.5 629.5,493.5 636.5,494.5 643.5,493.5 664.5,493.5 671.5,494.5 678.5,494.5 686.5,495.5 693.5,494.5 749.5,494.5 756.5,493.5 763.5,494.5 768.5,495.5 770.5,495.5 771.5,496.5 775.5,498.5 778.5,499.5 779.5,500.5 782.5,502.5 785.5,502.5 792.5,503.5 799.5,504.5 806.5,503.5 813.5,503.5 820.5,504.5 834.5,504.5 841.5,503.5 855.5,503.5 863.5,502.5 873.5,502.5 876.5,501.5 879.5,501.5 882.5,502.5 884.5,500.5 947.5,500.5 955.5,501.5 962.5,501.5 969.5,500.5 976.5,499.5 983.5,500.5 997.5,500.5 1003.5,501.5" fill="none" stroke="#55bbff" stroke-width="1"/>
<polyline points="558.5,495.5 572.5,495.5 579.5,494.5 586.5,495.5 593.5,494.5 601.5,495.5 622.5,495.5 629.5,494.5 657.5,494.5 664.5,495.5 671.5,494.5 678.5,494.5 686.5,495.5 742.5,495.5 749.5,494.5 756.5,495.5 763.5,494.5 768.5,495.5 770.5,496.5 771.5,497.5 775.5,499.5 778.5,501.5 779.5,501.5 782.5,503.5 792.5,503.5 799.5,502.5 806.5,503.5 820.5,503.5 827.5,502.5 834.5,503.5 848.5,503.5 855.5,502.5 863.5,503.5 870.5,503.5 873.5,502.5 876.5,503.5 877.5,502.5 879.5,501.5 882.5,501.5 884.5,500.5 885.5,501.5 891.5,500.5 898.5,500.5 905.5,501.5 912.5,500.5 919.5,501.5 947.5,501.5 955.5,500.5 969.5,500.5 976.5,501.5 983.5,500.5 1003.5,500.5" fill="none" stroke="#77ccff" stroke-width="1"/>
<polyline points="558.5,496.5 565.5,496.5 572.5,495.5 593.5,495.5 601.5,496.5 615.5,496.5 622.5,495.5 643.5,495.5 650.5,496.5 657.5,496.5 664.5,495.5 707.5,495.5 714.5,496.5 721.5,495.5 728.5,495.5 735.5,496.5 742.5,496.5 749.5,495.5 763.5,495.5 768.5,496.5 770.5,497.5 771.5,498.5 775.5,502.5 778.5,505.5 779.5,507.5 782.5,509.5 785.5,510.5 792.5,509.5 841.5,509.5 848.5,510.5 873.5,510.5 876.5,507.5 877.5,506.5 879.5,503.5 882.5,500.5 884.5,498.5 885.5,496.5 912.5,496.5 919.5,495.5 926.5,495.5 933.5,496.5 947.5,496.5 955.5,495.5 962.5,496.5 990.5,496.5 997.5,495.5 1003.5,495.5" fill="none" stroke="#ee8855" stroke-width="1"/>
<polyline points="558.5,497.5 579.5,497.5 586.5,498.5 608.5,498.5 615.5,497.5 622.5,498.5 671.5,498.5 678.5,497.5 700.5,497.5 707.5,498.5 768.5,498.5 770.5,499.5 771.5,501.5 775.5,505.5 778.5,507.5 779.5,508.5 782.5,511.5 799.5,511.5 806.5,512.5 827.5,512.5 834.5,511.5 841.5,512.5 870.5,512.5 873.5,511.5 876.5,507.5 877.5,506.5 879.5,505.5 882.5,501.5 884.5,499.5 885.5,498.5 912.5,498.5 919.5,497.5 926.5,498.5 933.5,497.5 947.5,497.5 955.5,498.5 962.5,497.5 983.5,497.5 990.5,498.5 997.5,497.5 1003.5,498.5" fill="none" stroke="#778800" stroke-width="1"/>
<polyline points="558.5,497.5 565.5,497.5 572.5,498.5 593.5,498.5 601.5,497.5 622.5,497.5 629.5,498.5 636.5,497.5 643.5,497.5 650.5,498.5 657.5,498.5 664.5,497.5 686.5,497.5 693.5,498.5 728.5,498.5 735.5,497.5 763.5,497.5 768.5,498.5 770.5,500.5 771.5,500.5 775.5,502.5 778.5,504.5 779.5,504.5 782.5,505.5 806.5,505.5 813.5,506.5 820.5,506.5 827.5,505.5 834.5,505.5 841.5,506.5 855.5,506.5 863.5,505.5 870.5,506.5 873.5,506.5 876.5,497.5 877.5,494.5 879.5,486.5 882.5,478.5 884.5,472.5 885.5,467.5 898.5,467.5 905.5,468.5 912.5,471.5 940.5,471.5 947.5,472.5 955.5,472.5 962.5,471.5 990.5,471.5 997.5,472.5 1003.5,473.5" fill="none" stroke="#550033" stroke-width="1"/>
<polyline points="558.5,498.5 565.5,499.5 636.5,499.5 643.5,498.5 650.5,498.5 657.5,499.5 664.5,498.5 671.5,499.5 693.5,499.5 700.5,498.5 707.5,499.5 763.5,499.5 768.5,498.5 770.5,499.5 771.5,500.5 775.5,502.5 778.5,504.5 779.5,505.5 782.5,508.5 792.5,508.5 799.5,507.5 820.5,507.5 827.5,508.5 841.5,508.5 848.5,507.5 863.5,507.5 870.5,508.5 873.5,507.5 876.5,498.5 877.5,495.5 879.5,487.5 882.5,477.5 884.5,472.5 885.5,469.5 898.5,469.5 905.5,470.5 912.5,472.5 919.5,472.5 926.5,473.5 933.5,472.5 955.5,472.5 962.5,473.5 969.5,472.5 976.5,473.5 983.5,473.5 990.5,472.5 997.5,473.5 1003.5,473.5" fill="none" stroke="#800080" stroke-width="1"/>
<polyline points="558.5,502.5 565.5,501.5 572.5,502.5 579.5,502.5 586.5,501.5 593.5,501.5 601.5,502.5 608.5,501.5 615.5,502.5 622.5,501.5 664.5,501.5 671.5,502.5 678.5,502.5 686.5,501.5 693.5,502.5 707.5,502.5 714.5,501.5 721.5,502.5 742.5,502.5 749.5,501.5 763.5,501.5 768.5,502.5 770.5,504.5 771.5,504.5 775.5,507.5 778.5,509.5 779.5,509.5 782.5,513.5 873.5,513.5 876.5,509.5 877.5,508.5 879.5,504.5 882.5,502.5 884.5,499.5 885.5,498.5 891.5,497.5 898.5,498.5 905.5,498.5 912.5,497.5 919.5,498.5 926.5,498.5 933.5,497.5 940.5,498.5 969.5,498.5 976.5,497.5 983.5,498.5 990.5,498.5 997.5,497.5 1003.5,497.5" fill="none" stroke="#ff4422" stroke-width="1"/>
<polyline points="558.5,502.5 565.5,502.5 572.5,503.5 579.5,503.5 586.5,502.5 593.5,502.5 601.5,503.5 608.5,502.5 622.5,502.5 629.5,503.5 636.5,502.5 643.5,502.5 650.5,503.5 657.5,502.5 664.5,503.5 671.5,502.5 693.5,502.5 700.5,503.5 707.5,502.5 728.5,502.5 735.5,503.5 749.5,503.5 756.5,502.5 768.5,502.5 770.5,503.5 771.5,505.5 775.5,508.5 778.5,510.5 779.5,510.5 782.5,513.5 785.5,514.5 799.5,514.5 806.5,513.5 813.5,514.5 820.5,513.5 827.5,514.5 834.5,513.5 870.5,513.5 873.5,514.5 876.5,510.5 877.5,509.5 879.5,506.5 882.5,503.5 884.5,500.5 885.5,499.5 891.5,498.5 905.5,498.5 912.5,499.5 962.5,499.5 969.5,498.5 983.5,498.5 990.5,499.5 997.5,499.5 1003.5,498.5" fill="none" stroke="#dd3322" stroke-width="1"/>
<polyline points="558.5,502.5 579.5,502.5 586.5,503.5 593.5,503.5 601.5,502.5 629.5,502.5 636.5,503.5 657.5,503.5 664.5,502.5 671.5,502.5 678.5,503.5 756.5,503.5 763.5,502.5 768.5,503.5 770.5,505.5 771.5,505.5 775.5,508.5 778.5,510.5 779.5,511.5 782.5,513.5 820.5,513.5 827.5,514.5 870.5,514.5 873.5,513.5 876.5,509.5 877.5,508.5 879.5,506.5 882.5,502.5 884.5,499.5 885.5,498.5 905.5,498.5 912.5,499.5 933.5,499.5 940.5,498.5 955.5,498.5 962.5,499.5 983.5,499.5 990.5,498.5 997.5,499.5 1003.5,499.5" fill="none" stroke="#887733" stroke-width="1"/>
<polyline points="558.5,504.5 565.5,505.5 572.5,504.5 601.5,504.5 608.5,505.5 622.5,505.5 629.5,504.5 664.5,504.5 671.5,503.5 768.5,503.5 770.5,504.5 771.5,506.5 775.5,510.5 778.5,512.5 779.5,513.5 782.5,515.5 827.5,515.5 834.5,514.5 841.5,515.5 848.5,516.5 855.5,516.5 863.5,515.5 870.5,515.5 873.5,516.5 876.5,512.5 877.5,510.5 879.5,508.5 882.5,504.5 884.5,501.5 885.5,499.5 891.5,499.5 898.5,498.5 905.5,498.5 912.5,499.5 919.5,500.5 926.5,499.5 940.5,499.5 947.5,500.5 955.5,500.5 962.5,499.5 969.5,499.5 976.5,498.5 983.5,499.5 990.5,498.5 997.5,499.5 1003.5,498.5" fill="none" stroke="#ee7722" stroke-width="1"/>
<polyline points="558.5,506.5 565.5,505.5 572.5,506.5 579.5,505.5 601.5,505.5 608.5,504.5 615.5,504.5 622.5,505.5 678.5,505.5 686.5,504.5 693.5,504.5 700.5,505.5 707.5,506.5 735.5,506.5 742.5,505.5 768.5,505.5 770.5,506.5 771.5,506.5 775.5,507.5 779.5,507.5 782.5,508.5 806.5,508.5 813.5,507.5 820.5,507.5 827.5,508.5 834.5,508.5 841.5,507.5 848.5,506.5 873.5,506.5 876.5,499.5 877.5,497.5 879.5,493.5 882.5,487.5 884.5,483.5 885.5,481.5 891.5,481.5 898.5,482.5 905.5,481.5 912.5,481.5 919.5,482.5 940.5,482.5 947.5,481.5 1003.5,481.5" fill="none" stroke="#cc44bb" stroke-width="1"/>
<polyline points="558.5,499.5 593.5,499.5 601.5,498.5 608.5,499.5 615.5,499.5 622.5,498.5 664.5,498.5 671.5,499.5 678.5,498.5 693.5,498.5 700.5,499.5 707.5,498.5 749.5,498.5 756.5,499.5 770.5,499.5 771.5,501.5 775.5,503.5 778.5,506.5 779.5,507.5 782.5,508.5 785.5,508.5 792.5,509.5 806.5,509.5 813.5,508.5 820.5,508.5 827.5,509.5 834.5,508.5 848.5,508.5 855.5,509.5 873.5,509.5 876.5,502.5 877.5,500.5 879.5,496.5 882.5,488.5 884.5,484.5 885.5,482.5 891.5,482.5 898.5,483.5 926.5,483.5 933.5,482.5 940.5,483.5 947.5,483.5 955.5,482.5 976.5,482.5 983.5,483.5 997.5,483.5 1003.5,482.5" fill="none" stroke="#220044" stroke-width="1"/>
<polyline points="558.5,500.5 565.5,500.5 572.5,499.5 601.5,499.5 608.5,500.5 622.5,500.5 629.5,501.5 636.5,500.5 664.5,500.5 671.5,501.5 678.5,500.5 686.5,500.5 693.5,501.5 714.5,501.5 721.5,500.5 728.5,500.5 735.5,499.5 742.5,499.5 749.5,500.5 768.5,500.5 770.5,502.5 771.5,504.5 775.5,508.5 778.5,511.5 779.5,511.5 782.5,514.5 785.5,515.5 792.5,515.5 799.5,516.5 827.5,516.5 834.5,515.5 841.5,516.5 863.5,516.5 870.5,515.5 873.5,515.5 876.5,511.5 877.5,510.5 879.5,506.5 882.5,502.5 884.5,500.5 885.5,498.5 898.5,498.5 905.5,499.5 912.5,499.5 919.5,500.5 955.5,500.5 962.5,499.5 976.5,499.5 983.5,500.5 1003.5,500.5" fill="none" stroke="#cc5533" stroke-width="1"/>
<polyline points="558.5,491.5 565.5,491.5 572.5,490.5 586.5,490.5 593.5,491.5 615.5,491.5 622.5,490.5 629.5,491.5 636.5,491.5 643.5,490.5 671.5,490.5 678.5,491.5 686.5,490.5 700.5,490.5 707.5,491.5 728.5,491.5 735.5,490.5 742.5,491.5 756.5,491.5 763.5,490.5 768.5,490.5 770.5,493.5 771.5,493.5 775.5,497.5 778.5,500.5 779.5,501.5 782.5,505.5 806.5,505.5 813.5,506.5 820.5,505.5 873.5,505.5 876.5,495.5 877.5,491.5 879.5,485.5 882.5,475.5 884.5,468.5 885.5,465.5 891.5,465.5 898.5,466.5 905.5,465.5 912.5,468.5 919.5,469.5 933.5,469.5 940.5,468.5 955.5,468.5 962.5,469.5 969.5,468.5 976.5,469.5 990.5,469.5 997.5,468.5 1003.5,469.5" fill="none" stroke="#b0206a" stroke-width="1"/>
<polyline points="558.5,490.5 565.5,489.5 572.5,490.5 579.5,489.5 593.5,489.5 601.5,490.5 622.5,490.5 629.5,489.5 636.5,489.5 643.5,490.5 650.5,489.5 657.5,489.5 664.5,490.5 671.5,489.5 700.5,489.5 707.5,490.5 768.5,490.5 770.5,492.5 771.5,494.5 775.5,499.5 778.5,503.5 779.5,504.5 782.5,508.5 785.5,509.5 792.5,509.5 799.5,508.5 834.5,508.5 841.5,509.5 873.5,509.5 876.5,505.5 877.5,504.5 879.5,502.5 882.5,498.5 884.5,496.5 885.5,495.5 891.5,495.5 898.5,496.5 919.5,496.5 926.5,495.5 933.5,496.5 940.5,496.5 947.5,495.5 990.5,495.5 997.5,496.5 1003.5,496.5" fill="none" stroke="#66aa00" stroke-width="1"/>
<polyline points="558.5,487.5 565.5,486.5 572.5,486.5 579.5,487.5 586.5,487.5 593.5,486.5 608.5,486.5 615.5,487.5 650.5,487.5 657.5,486.5 664.5,487.5 693.5,487.5 700.5,486.5 707.5,487.5 714.5,487.5 721.5,486.5 749.5,486.5 756.5,487.5 763.5,486.5 768.5,486.5 770.5,490.5 771.5,490.5 775.5,496.5 778.5,501.5 779.5,502.5 782.5,507.5 799.5,507.5 806.5,508.5 813.5,507.5 841.5,507.5 848.5,508.5 855.5,508.5 863.5,507.5 870.5,508.5 873.5,508.5 876.5,502.5 877.5,499.5 879.5,496.5 882.5,491.5 884.5,487.5 885.5,486.5 898.5,486.5 905.5,485.5 926.5,485.5 933.5,486.5 940.5,485.5 947.5,486.5 955.5,485.5 962.5,486.5 969.5,485.5 976.5,485.5 983.5,486.5 1003.5,486.5" fill="none" stroke="#cc6622" stroke-width="1"/>
<polyline points="558.5,488.5 572.5,488.5 579.5,489.5 586.5,489.5 593.5,488.5 608.5,488.5 615.5,489.5 622.5,488.5 629.5,489.5 678.5,489.5 686.5,488.5 714.5,488.5 721.5,489.5 749.5,489.5 756.5,488.5 768.5,488.5 770.5,491.5 771.5,494.5 775.5,499.5 778.5,503.5 779.5,505.5 782.5,509.5 785.5,510.5 806.5,510.5 813.5,509.5 820.5,509.5 827.5,510.5 848.5,510.5 855.5,509.5 863.5,509.5 870.5,510.5 873.5,510.5 876.5,504.5 877.5,501.5 879.5,498.5 882.5,492.5 884.5,487.5 885.5,485.5 891.5,486.5 912.5,486.5 919.5,485.5 926.5,486.5 940.5,486.5 947.5,485.5 955.5,485.5 962.5,486.5 969.5,486.5 976.5,485.5 1003.5,485.5" fill="none" stroke="#aa7744" stroke-width="1"/>
<polyline points="558.5,467.5 602.5,467.5 615.5,472.5 636.5,474.0 648.5,474.0 660.5,473.0 674.5,471.8 697.5,471.8 700.5,473.0 714.5,473.0 717.5,475.5 768.5,476.5 778.5,492.4 782.5,494.1 801.5,493.1 811.5,490.6 819.5,490.6 828.5,494.5 838.5,495.3 871.5,493.5 876.5,490.5 885.5,455.7 950.5,455.5 960.5,455.0 975.5,456.0 990.5,457.5 1003.5,457.0" fill="none" stroke="#000" stroke-width="1"/>
<polyline points="558.5,469.5 602.5,469.5 615.5,474.5 648.5,475.5 700.5,474.5 768.5,477.5 782.5,495.5 800.5,495.5 811.5,492.5 820.5,493.5 830.5,496.5 871.5,496.5 885.5,487.5 1003.5,487.5" fill="none" stroke="#66cc00" stroke-width="1"/>
<polyline points="558.5,509.2 600.5,509.5 636.5,510.8 700.5,510.0 760.5,512.8 782.5,516.5 873.5,516.5 885.5,503.0 1003.5,503.0" fill="none" stroke="#886655" stroke-width="1"/>
<line x1="20" y1="478.5" x2="548" y2="478.5" stroke="#000"/>
<line x1="558" y1="478.5" x2="1004" y2="478.5" stroke="#000"/>
<line x1="20" y1="484.5" x2="548" y2="484.5" stroke="#000"/>
<line x1="558" y1="484.5" x2="1004" y2="484.5" stroke="#000"/>
<line x1="20" y1="499.5" x2="548" y2="499.5" stroke="#000"/>
<line x1="558" y1="499.5" x2="1004" y2="499.5" stroke="#000"/>
<polyline points="15.5,578.5 34.5,578.5 41.5,579.5 48.5,579.5 55.5,580.5 70.5,580.5 77.5,579.5 84.5,578.5 162.5,578.5 169.5,579.5 183.5,579.5 190.5,578.5 197.5,579.5 211.5,579.5 218.5,578.5 225.5,578.5 232.5,579.5 261.5,579.5 268.5,578.5 275.5,578.5 282.5,579.5 289.5,579.5 296.5,578.5 303.5,579.5 310.5,578.5 317.5,578.5 324.5,579.5 332.5,578.5 353.5,578.5 360.5,579.5 374.5,579.5 381.5,578.5 388.5,579.5 409.5,579.5 416.5,580.5 424.5,579.5 431.5,578.5 445.5,578.5 452.5,579.5 459.5,578.5 501.5,578.5 509.5,579.5 547.5,579.5" fill="none" stroke="#55bbff" stroke-width="1"/>
<polyline points="15.5,579.5 20.5,580.5 62.5,580.5 70.5,579.5 84.5,579.5 91.5,578.5 98.5,579.5 105.5,578.5 155.5,578.5 162.5,579.5 176.5,579.5 183.5,578.5 197.5,578.5 204.5,579.5 211.5,578.5 218.5,579.5 225.5,579.5 232.5,578.5 254.5,578.5 261.5,579.5 268.5,579.5 275.5,578.5 303.5,578.5 310.5,579.5 353.5,579.5 360.5,580.5 381.5,580.5 388.5,579.5 402.5,579.5 409.5,580.5 459.5,580.5 466.5,579.5 473.5,579.5 480.5,578.5 494.5,578.5 501.5,579.5 509.5,580.5 547.5,580.5" fill="none" stroke="#8899ee" stroke-width="1"/>
<polyline points="15.5,580.5 62.5,580.5 70.5,581.5 77.5,580.5 98.5,580.5 105.5,581.5 112.5,581.5 119.5,580.5 147.5,580.5 155.5,581.5 162.5,581.5 169.5,580.5 176.5,580.5 183.5,581.5 204.5,581.5 211.5,580.5 218.5,579.5 247.5,579.5 254.5,580.5 346.5,580.5 353.5,581.5 388.5,581.5 395.5,580.5 445.5,580.5 452.5,579.5 459.5,580.5 466.5,580.5 473.5,579.5 480.5,580.5 487.5,581.5 494.5,581.5 501.5,580.5 523.5,580.5 530.5,579.5 547.5,579.5" fill="none" stroke="#ee9977" stroke-width="1"/>
<polyline points="15.5,581.5 27.5,581.5 34.5,580.5 41.5,581.5 48.5,581.5 55.5,582.5 62.5,582.5 70.5,581.5 77.5,580.5 98.5,580.5 105.5,581.5 112.5,581.5 119.5,580.5 126.5,581.5 133.5,580.5 147.5,580.5 155.5,581.5 162.5,582.5 190.5,582.5 197.5,581.5 211.5,581.5 218.5,582.5 225.5,582.5 232.5,581.5 239.5,580.5 261.5,580.5 268.5,581.5 296.5,581.5 303.5,582.5 310.5,581.5 332.5,581.5 339.5,582.5 353.5,582.5 360.5,581.5 374.5,581.5 381.5,582.5 424.5,582.5 431.5,581.5 459.5,581.5 466.5,580.5 473.5,581.5 494.5,581.5 501.5,582.5 509.5,581.5 516.5,581.5 523.5,582.5 530.5,581.5 537.5,582.5 547.5,582.5" fill="none" stroke="#77ccff" stroke-width="1"/>
<polyline points="15.5,581.5 34.5,581.5 41.5,582.5 62.5,582.5 70.5,581.5 77.5,581.5 84.5,582.5 91.5,581.5 232.5,581.5 239.5,580.5 275.5,580.5 282.5,581.5 296.5,581.5 303.5,582.5 374.5,582.5 381.5,581.5 424.5,581.5 431.5,580.5 473.5,580.5 480.5,581.5 501.5,581.5 509.5,582.5 530.5,582.5 537.5,581.5 547.5,581.5" fill="none" stroke="#44ee00" stroke-width="1"/>
<polyline points="15.5,583.5 20.5,582.5 27.5,582.5 34.5,581.5 41.5,581.5 48.5,582.5 55.5,582.5 62.5,581.5 70.5,582.5 98.5,582.5 105.5,583.5 119.5,583.5 126.5,582.5 133.5,581.5 190.5,581.5 197.5,582.5 204.5,582.5 211.5,583.5 247.5,583.5 254.5,582.5 261.5,582.5 268.5,583.5 289.5,583.5 296.5,582.5 303.5,581.5 324.5,581.5 332.5,582.5 346.5,582.5 353.5,581.5 360.5,582.5 388.5,582.5 395.5,581.5 409.5,581.5 416.5,582.5 424.5,583.5 431.5,583.5 438.5,582.5 473.5,582.5 480.5,583.5 494.5,583.5 501.5,582.5 516.5,582.5 523.5,583.5 530.5,583.5 537.5,582.5 544.5,582.5 547.5,583.5" fill="none" stroke="#88bb22" stroke-width="1"/>
<polyline points="15.5,583.5 27.5,583.5 34.5,584.5 48.5,584.5 55.5,583.5 77.5,583.5 84.5,584.5 162.5,584.5 169.5,583.5 197.5,583.5 204.5,584.5 218.5,584.5 225.5,583.5 232.5,583.5 239.5,584.5 261.5,584.5 268.5,583.5 275.5,584.5 282.5,584.5 289.5,583.5 296.5,583.5 303.5,584.5 310.5,583.5 339.5,583.5 346.5,584.5 374.5,584.5 381.5,583.5 388.5,583.5 395.5,582.5 409.5,582.5 416.5,583.5 424.5,583.5 431.5,584.5 452.5,584.5 459.5,583.5 466.5,583.5 473.5,582.5 480.5,583.5 487.5,582.5 494.5,583.5 501.5,583.5 509.5,584.5 516.5,584.5 523.5,583.5 530.5,582.5 544.5,582.5 547.5,583.5" fill="none" stroke="#cc99dd" stroke-width="1"/>
<polyline points="15.5,584.5 20.5,583.5 34.5,583.5 41.5,584.5 48.5,583.5 55.5,584.5 70.5,584.5 77.5,583.5 84.5,584.5 91.5,584.5 98.5,583.5 140.5,583.5 147.5,584.5 155.5,585.5 183.5,585.5 190.5,584.5 197.5,584.5 204.5,585.5 232.5,585.5 239.5,584.5 296.5,584.5 303.5,583.5 310.5,584.5 317.5,583.5 353.5,583.5 360.5,584.5 367.5,585.5 381.5,585.5 388.5,584.5 395.5,584.5 402.5,585.5 409.5,585.5 416.5,584.5 438.5,584.5 445.5,585.5 480.5,585.5 487.5,584.5 509.5,584.5 516.5,585.5 537.5,585.5 544.5,584.5 547.5,583.5" fill="none" stroke="#bb0055" stroke-width="1"/>
<polyline points="15.5,584.5 27.5,584.5 34.5,585.5 41.5,585.5 48.5,584.5 70.5,584.5 77.5,583.5 84.5,584.5 91.5,583.5 112.5,583.5 119.5,584.5 126.5,584.5 133.5,583.5 140.5,584.5 232.5,584.5 239.5,585.5 247.5,585.5 254.5,584.5 261.5,585.5 268.5,585.5 275.5,584.5 282.5,585.5 289.5,584.5 296.5,584.5 303.5,585.5 332.5,585.5 339.5,584.5 346.5,583.5 353.5,584.5 388.5,584.5 395.5,583.5 402.5,584.5 424.5,584.5 431.5,583.5 438.5,583.5 445.5,584.5 459.5,584.5 466.5,585.5 501.5,585.5 509.5,584.5 544.5,584.5 547.5,585.5" fill="none" stroke="#ee7722" stroke-width="1"/>
<polyline points="15.5,585.5 20.5,586.5 27.5,585.5 34.5,585.5 41.5,586.5 62.5,586.5 70.5,585.5 77.5,586.5 105.5,586.5 112.5,585.5 119.5,585.5 126.5,584.5 133.5,585.5 147.5,585.5 155.5,584.5 162.5,584.5 169.5,585.5 176.5,586.5 183.5,586.5 190.5,585.5 197.5,585.5 204.5,586.5 239.5,586.5 247.5,585.5 289.5,585.5 296.5,586.5 303.5,585.5 310.5,584.5 332.5,584.5 339.5,585.5 346.5,585.5 353.5,586.5 374.5,586.5 381.5,585.5 388.5,584.5 409.5,584.5 416.5,585.5 424.5,586.5 438.5,586.5 445.5,585.5 452.5,585.5 459.5,586.5 473.5,586.5 480.5,585.5 487.5,585.5 494.5,584.5 501.5,584.5 509.5,585.5 516.5,586.5 523.5,585.5 547.5,585.5" fill="none" stroke="#5599ee" stroke-width="1"/>
<polyline points="15.5,585.5 41.5,585.5 48.5,586.5 77.5,586.5 84.5,585.5 91.5,586.5 155.5,586.5 162.5,585.5 176.5,585.5 183.5,586.5 190.5,585.5 197.5,586.5 204.5,585.5 211.5,586.5 218.5,585.5 225.5,585.5 232.5,586.5 275.5,586.5 282.5,585.5 289.5,586.5 296.5,585.5 303.5,586.5 310.5,586.5 317.5,585.5 324.5,586.5 332.5,585.5 353.5,585.5 360.5,586.5 374.5,586.5 381.5,585.5 402.5,585.5 409.5,586.5 424.5,586.5 431.5,585.5 438.5,586.5 445.5,586.5 452.5,585.5 459.5,586.5 473.5,586.5 480.5,585.5 494.5,585.5 501.5,586.5 509.5,586.5 516.5,585.5 547.5,585.5" fill="none" stroke="#aaaa00" stroke-width="1"/>
<polyline points="15.5,587.5 20.5,586.5 41.5,586.5 48.5,587.5 55.5,586.5 62.5,587.5 70.5,586.5 140.5,586.5 147.5,587.5 176.5,587.5 183.5,586.5 190.5,587.5 197.5,586.5 204.5,587.5 218.5,587.5 225.5,586.5 232.5,587.5 239.5,586.5 247.5,586.5 254.5,587.5 261.5,587.5 268.5,586.5 275.5,586.5 282.5,587.5 289.5,586.5 310.5,586.5 317.5,587.5 324.5,587.5 332.5,586.5 339.5,587.5 346.5,587.5 353.5,586.5 360.5,586.5 367.5,587.5 374.5,586.5 416.5,586.5 424.5,587.5 431.5,586.5 452.5,586.5 459.5,587.5 466.5,586.5 501.5,586.5 509.5,587.5 544.5,587.5 547.5,586.5" fill="none" stroke="#880088" stroke-width="1"/>
<polyline points="15.5,586.5 41.5,586.5 48.5,587.5 55.5,587.5 62.5,586.5 77.5,586.5 84.5,587.5 91.5,586.5 98.5,586.5 105.5,587.5 147.5,587.5 155.5,586.5 162.5,586.5 169.5,587.5 183.5,587.5 190.5,586.5 197.5,586.5 204.5,587.5 211.5,586.5 268.5,586.5 275.5,587.5 282.5,586.5 289.5,587.5 317.5,587.5 324.5,586.5 409.5,586.5 416.5,587.5 424.5,586.5 445.5,586.5 452.5,587.5 459.5,587.5 466.5,586.5 473.5,587.5 480.5,586.5 487.5,587.5 494.5,586.5 509.5,586.5 516.5,587.5 537.5,587.5 544.5,586.5 547.5,586.5" fill="none" stroke="#000044" stroke-width="1"/>
<polyline points="15.5,587.5 55.5,587.5 62.5,588.5 70.5,587.5 77.5,586.5 98.5,586.5 105.5,587.5 112.5,586.5 126.5,586.5 133.5,587.5 155.5,587.5 162.5,588.5 211.5,588.5 218.5,587.5 275.5,587.5 282.5,586.5 289.5,587.5 310.5,587.5 317.5,588.5 324.5,587.5 381.5,587.5 388.5,588.5 409.5,588.5 416.5,587.5 445.5,587.5 452.5,588.5 459.5,587.5 466.5,588.5 480.5,588.5 487.5,587.5 494.5,588.5 501.5,588.5 509.5,587.5 530.5,587.5 537.5,588.5 544.5,587.5 547.5,588.5" fill="none" stroke="#66dd00" stroke-width="1"/>
<polyline points="15.5,588.5 41.5,588.5 48.5,587.5 55.5,588.5 62.5,589.5 84.5,589.5 91.5,588.5 98.5,588.5 105.5,589.5 112.5,589.5 119.5,588.5 147.5,588.5 155.5,587.5 162.5,588.5 169.5,587.5 176.5,587.5 183.5,588.5 190.5,589.5 232.5,589.5 239.5,588.5 254.5,588.5 261.5,589.5 282.5,589.5 289.5,588.5 296.5,587.5 303.5,587.5 310.5,588.5 360.5,588.5 367.5,587.5 374.5,588.5 381.5,588.5 388.5,587.5 438.5,587.5 445.5,588.5 459.5,588.5 466.5,589.5 473.5,588.5 480.5,587.5 487.5,587.5 494.5,588.5 501.5,588.5 509.5,587.5 516.5,587.5 523.5,588.5 530.5,588.5 537.5,587.5 547.5,587.5" fill="none" stroke="#ff4422" stroke-width="1"/>
<polyline points="15.5,590.5 20.5,590.5 27.5,589.5 34.5,589.5 41.5,590.5 48.5,589.5 55.5,590.5 70.5,590.5 77.5,589.5 84.5,590.5 162.5,590.5 169.5,589.5 190.5,589.5 197.5,590.5 204.5,590.5 211.5,589.5 239.5,589.5 247.5,590.5 254.5,590.5 261.5,589.5 268.5,590.5 282.5,590.5 289.5,589.5 296.5,589.5 303.5,588.5 353.5,588.5 360.5,589.5 388.5,589.5 395.5,590.5 416.5,590.5 424.5,589.5 431.5,589.5 438.5,590.5 445.5,590.5 452.5,589.5 459.5,589.5 466.5,588.5 473.5,588.5 480.5,589.5 547.5,589.5" fill="none" stroke="#ee8866" stroke-width="1"/>
<polyline points="15.5,590.5 20.5,589.5 27.5,590.5 41.5,590.5 48.5,589.5 55.5,590.5 62.5,589.5 119.5,589.5 126.5,590.5 133.5,590.5 140.5,589.5 147.5,589.5 155.5,590.5 162.5,590.5 169.5,589.5 176.5,589.5 183.5,590.5 197.5,590.5 204.5,589.5 247.5,589.5 254.5,590.5 303.5,590.5 310.5,589.5 339.5,589.5 346.5,590.5 360.5,590.5 367.5,589.5 374.5,589.5 381.5,590.5 388.5,589.5 409.5,589.5 416.5,590.5 424.5,589.5 431.5,590.5 445.5,590.5 452.5,589.5 501.5,589.5 509.5,590.5 523.5,590.5 530.5,589.5 537.5,589.5 544.5,590.5 547.5,590.5" fill="none" stroke="#779900" stroke-width="1"/>
<polyline points="15.5,589.5 41.5,589.5 48.5,590.5 55.5,589.5 62.5,589.5 70.5,590.5 77.5,591.5 105.5,591.5 112.5,590.5 119.5,590.5 126.5,589.5 133.5,590.5 155.5,590.5 162.5,589.5 183.5,589.5 190.5,590.5 197.5,590.5 204.5,589.5 218.5,589.5 225.5,590.5 232.5,589.5 254.5,589.5 261.5,590.5 289.5,590.5 296.5,591.5 324.5,591.5 332.5,590.5 416.5,590.5 424.5,589.5 431.5,590.5 466.5,590.5 473.5,589.5 501.5,589.5 509.5,590.5 516.5,589.5 530.5,589.5 537.5,590.5 547.5,590.5" fill="none" stroke="#dd5522" stroke-width="1"/>
<polyline points="15.5,590.5 34.5,590.5 41.5,591.5 48.5,592.5 55.5,592.5 62.5,591.5 70.5,590.5 84.5,590.5 91.5,591.5 98.5,590.5 105.5,590.5 112.5,591.5 119.5,592.5 133.5,592.5 140.5,591.5 169.5,591.5 176.5,592.5 197.5,592.5 204.5,591.5 211.5,591.5 218.5,590.5 225.5,591.5 232.5,592.5 239.5,591.5 247.5,590.5 268.5,590.5 275.5,591.5 317.5,591.5 324.5,592.5 332.5,591.5 339.5,590.5 346.5,591.5 353.5,591.5 360.5,590.5 367.5,591.5 374.5,590.5 381.5,591.5 402.5,591.5 409.5,592.5 416.5,591.5 445.5,591.5 452.5,590.5 459.5,590.5 466.5,591.5 473.5,590.5 516.5,590.5 523.5,591.5 530.5,592.5 537.5,592.5 544.5,591.5 547.5,591.5" fill="none" stroke="#cc4422" stroke-width="1"/>
<polyline points="15.5,572.5 25.5,569.8 35.5,570.0 41.5,573.5 70.5,573.5 75.5,575.5 80.5,576.8 105.5,576.8 108.0,575.5 125.5,575.0 150.5,575.0 155.5,576.8 170.5,576.8 173.0,578.0 190.5,578.0 195.5,575.5 200.5,573.8 218.0,573.8 220.5,571.8 240.5,571.8 243.5,572.8 244.5,573.2 256.5,574.2 276.5,574.2 281.5,575.0 319.0,575.0 324.0,572.5 339.0,567.5 374.0,567.5 396.5,575.5 456.5,575.5 461.5,573.5 481.5,571.8 491.5,570.0 506.5,570.0 512.5,570.5 520.0,572.8 547.5,574.5" fill="none" stroke="#000" stroke-width="1"/>
<polyline points="15.5,569.8 25.5,568.0 35.5,568.5 50.5,571.8 60.5,573.5 75.5,575.0 87.5,576.8 105.5,576.8 125.5,574.5 150.5,574.5 170.5,576.5 190.5,577.0 200.5,573.0 220.5,571.0 243.5,571.0 256.5,573.2 300.5,574.0 319.0,574.0 324.0,570.5 339.0,566.5 374.0,566.5 396.5,574.5 456.5,574.5 461.5,572.5 481.5,570.8 491.5,569.0 506.5,569.0 520.0,571.8 547.5,573.5" fill="none" stroke="#aa8833" stroke-width="1"/>
<polyline points="15.5,594.5 100.5,594.5 150.5,594.0 200.5,594.0 265.5,594.0 280.5,592.5 290.5,592.0 300.5,593.5 400.5,594.5 547.5,594.5" fill="none" stroke="#886655" stroke-width="1"/>
<polyline points="563.5,579.5 579.5,579.5 586.5,578.5 636.5,578.5 643.5,579.5 657.5,579.5 664.5,578.5 671.5,579.5 678.5,579.5 686.5,578.5 693.5,579.5 700.5,579.5 707.5,578.5 714.5,579.5 728.5,579.5 735.5,578.5 742.5,579.5 749.5,579.5 756.5,578.5 763.5,578.5 770.5,579.5 799.5,579.5 806.5,578.5 813.5,579.5 855.5,579.5 863.5,578.5 933.5,578.5 940.5,579.5 947.5,579.5 955.5,578.5 962.5,579.5 997.5,579.5 1004.5,578.5 1007.5,578.5" fill="none" stroke="#55bbff" stroke-width="1"/>
<polyline points="563.5,579.5 586.5,579.5 593.5,580.5 601.5,580.5 608.5,579.5 615.5,580.5 622.5,579.5 629.5,580.5 650.5,580.5 657.5,579.5 664.5,579.5 671.5,580.5 721.5,580.5 728.5,579.5 749.5,579.5 756.5,580.5 763.5,579.5 770.5,580.5 792.5,580.5 799.5,579.5 820.5,579.5 827.5,580.5 848.5,580.5 855.5,579.5 863.5,579.5 870.5,580.5 877.5,580.5 884.5,579.5 905.5,579.5 912.5,580.5 962.5,580.5 969.5,579.5 983.5,579.5 990.5,580.5 997.5,579.5 1007.5,579.5" fill="none" stroke="#cc44bb" stroke-width="1"/>
<polyline points="563.5,579.5 565.5,580.5 601.5,580.5 608.5,579.5 615.5,580.5 650.5,580.5 657.5,579.5 707.5,579.5 714.5,580.5 735.5,580.5 742.5,579.5 749.5,579.5 756.5,580.5 785.5,580.5 792.5,579.5 834.5,579.5 841.5,580.5 848.5,580.5 855.5,579.5 912.5,579.5 919.5,580.5 926.5,580.5 933.5,579.5 940.5,579.5 947.5,580.5 955.5,579.5 962.5,579.5 969.5,580.5 976.5,579.5 1007.5,579.5" fill="none" stroke="#8899ee" stroke-width="1"/>
<polyline points="563.5,580.5 565.5,581.5 586.5,581.5 593.5,580.5 601.5,581.5 608.5,580.5 615.5,580.5 622.5,581.5 664.5,581.5 671.5,580.5 700.5,580.5 707.5,581.5 721.5,581.5 728.5,580.5 735.5,581.5 778.5,581.5 785.5,580.5 813.5,580.5 820.5,581.5 855.5,581.5 863.5,580.5 870.5,581.5 877.5,580.5 891.5,580.5 898.5,581.5 905.5,580.5 912.5,581.5 926.5,581.5 933.5,580.5 962.5,580.5 969.5,581.5 983.5,581.5 990.5,580.5 997.5,581.5 1004.5,581.5 1007.5,580.5" fill="none" stroke="#ee9977" stroke-width="1"/>
<polyline points="563.5,582.5 565.5,581.5 629.5,581.5 636.5,582.5 643.5,581.5 650.5,581.5 657.5,582.5 671.5,582.5 678.5,581.5 686.5,582.5 693.5,581.5 700.5,581.5 707.5,582.5 770.5,582.5 778.5,581.5 785.5,581.5 792.5,582.5 799.5,582.5 806.5,581.5 813.5,581.5 820.5,582.5 848.5,582.5 855.5,581.5 863.5,582.5 870.5,581.5 877.5,582.5 884.5,581.5 912.5,581.5 919.5,582.5 926.5,582.5 933.5,581.5 962.5,581.5 969.5,582.5 976.5,582.5 983.5,581.5 990.5,582.5 997.5,581.5 1007.5,581.5" fill="none" stroke="#77ccff" stroke-width="1"/>
<polyline points="563.5,581.5 608.5,581.5 615.5,582.5 650.5,582.5 657.5,581.5 678.5,581.5 686.5,582.5 693.5,582.5 700.5,581.5 707.5,581.5 714.5,582.5 721.5,582.5 728.5,581.5 735.5,582.5 742.5,582.5 749.5,581.5 756.5,582.5 763.5,582.5 770.5,581.5 785.5,581.5 792.5,582.5 799.5,582.5 806.5,581.5 813.5,582.5 848.5,582.5 855.5,581.5 877.5,581.5 884.5,582.5 891.5,582.5 898.5,581.5 905.5,581.5 912.5,582.5 926.5,582.5 933.5,581.5 940.5,581.5 947.5,582.5 955.5,581.5 962.5,581.5 969.5,582.5 976.5,582.5 983.5,581.5 990.5,581.5 997.5,582.5 1007.5,582.5" fill="none" stroke="#bb0055" stroke-width="1"/>
<polyline points="563.5,582.5 601.5,582.5 608.5,583.5 657.5,583.5 664.5,582.5 686.5,582.5 693.5,583.5 714.5,583.5 721.5,582.5 749.5,582.5 756.5,583.5 813.5,583.5 820.5,582.5 848.5,582.5 855.5,583.5 870.5,583.5 877.5,582.5 919.5,582.5 926.5,583.5 947.5,583.5 955.5,582.5 962.5,583.5 969.5,583.5 976.5,582.5 997.5,582.5 1004.5,583.5 1007.5,583.5" fill="none" stroke="#88bb22" stroke-width="1"/>
<polyline points="563.5,583.5 565.5,583.5 572.5,584.5 586.5,584.5 593.5,583.5 601.5,584.5 629.5,584.5 636.5,583.5 643.5,584.5 650.5,584.5 657.5,583.5 686.5,583.5 693.5,584.5 799.5,584.5 806.5,583.5 813.5,584.5 820.5,583.5 827.5,584.5 848.5,584.5 855.5,583.5 898.5,583.5 905.5,584.5 955.5,584.5 962.5,583.5 983.5,583.5 990.5,584.5 1007.5,584.5" fill="none" stroke="#cc99dd" stroke-width="1"/>
<polyline points="563.5,584.5 565.5,584.5 572.5,585.5 593.5,585.5 601.5,584.5 629.5,584.5 636.5,585.5 643.5,584.5 700.5,584.5 707.5,585.5 714.5,585.5 721.5,584.5 728.5,584.5 735.5,585.5 742.5,584.5 799.5,584.5 806.5,585.5 834.5,585.5 841.5,584.5 848.5,584.5 855.5,585.5 884.5,585.5 891.5,584.5 898.5,584.5 905.5,585.5 919.5,585.5 926.5,584.5 933.5,584.5 940.5,585.5 947.5,585.5 955.5,584.5 962.5,585.5 997.5,585.5 1004.5,584.5 1007.5,584.5" fill="none" stroke="#44ee00" stroke-width="1"/>
<polyline points="563.5,584.5 593.5,584.5 601.5,585.5 608.5,585.5 615.5,584.5 650.5,584.5 657.5,585.5 671.5,585.5 678.5,584.5 686.5,585.5 693.5,584.5 700.5,585.5 707.5,584.5 756.5,584.5 763.5,585.5 806.5,585.5 813.5,584.5 820.5,584.5 827.5,585.5 855.5,585.5 863.5,584.5 870.5,585.5 877.5,584.5 884.5,584.5 891.5,585.5 898.5,585.5 905.5,584.5 926.5,584.5 933.5,585.5 940.5,584.5 969.5,584.5 976.5,585.5 1007.5,585.5" fill="none" stroke="#ee7722" stroke-width="1"/>
<polyline points="563.5,585.5 565.5,584.5 579.5,584.5 586.5,585.5 622.5,585.5 629.5,584.5 636.5,585.5 714.5,585.5 721.5,584.5 735.5,584.5 742.5,585.5 778.5,585.5 785.5,584.5 799.5,584.5 806.5,585.5 841.5,585.5 848.5,584.5 855.5,584.5 863.5,585.5 884.5,585.5 891.5,584.5 919.5,584.5 926.5,585.5 933.5,585.5 940.5,584.5 969.5,584.5 976.5,585.5 983.5,585.5 990.5,584.5 1007.5,584.5" fill="none" stroke="#5599ee" stroke-width="1"/>
<polyline points="563.5,585.5 579.5,585.5 586.5,586.5 601.5,586.5 608.5,585.5 615.5,586.5 622.5,585.5 629.5,585.5 636.5,586.5 643.5,585.5 657.5,585.5 664.5,586.5 671.5,585.5 721.5,585.5 728.5,586.5 735.5,585.5 742.5,585.5 749.5,586.5 770.5,586.5 778.5,585.5 785.5,585.5 792.5,586.5 799.5,586.5 806.5,585.5 813.5,586.5 820.5,586.5 827.5,585.5 834.5,586.5 841.5,586.5 848.5,585.5 855.5,586.5 870.5,586.5 877.5,585.5 884.5,586.5 891.5,585.5 905.5,585.5 912.5,586.5 983.5,586.5 990.5,585.5 1007.5,585.5" fill="none" stroke="#aaaa00" stroke-width="1"/>
<polyline points="563.5,587.5 565.5,586.5 593.5,586.5 601.5,587.5 643.5,587.5 650.5,586.5 664.5,586.5 671.5,587.5 756.5,587.5 763.5,586.5 785.5,586.5 792.5,587.5 799.5,586.5 806.5,587.5 813.5,587.5 820.5,586.5 834.5,586.5 841.5,587.5 905.5,587.5 912.5,586.5 933.5,586.5 940.5,587.5 969.5,587.5 976.5,586.5 983.5,587.5 997.5,587.5 1004.5,586.5 1007.5,586.5" fill="none" stroke="#880088" stroke-width="1"/>
<polyline points="563.5,588.5 586.5,588.5 593.5,587.5 601.5,588.5 608.5,587.5 615.5,587.5 622.5,588.5 629.5,587.5 636.5,587.5 643.5,588.5 707.5,588.5 714.5,587.5 721.5,587.5 728.5,588.5 735.5,587.5 763.5,587.5 770.5,588.5 834.5,588.5 841.5,587.5 848.5,587.5 855.5,588.5 912.5,588.5 919.5,587.5 940.5,587.5 947.5,588.5 955.5,587.5 1007.5,587.5" fill="none" stroke="#000044" stroke-width="1"/>
<polyline points="563.5,588.5 579.5,588.5 586.5,587.5 593.5,587.5 601.5,588.5 608.5,587.5 629.5,587.5 636.5,588.5 643.5,588.5 650.5,587.5 657.5,588.5 664.5,587.5 671.5,587.5 678.5,588.5 686.5,588.5 693.5,587.5 735.5,587.5 742.5,588.5 749.5,587.5 756.5,588.5 770.5,588.5 778.5,587.5 792.5,587.5 799.5,588.5 806.5,587.5 848.5,587.5 855.5,588.5 863.5,587.5 905.5,587.5 912.5,588.5 933.5,588.5 940.5,587.5 947.5,588.5 955.5,587.5 969.5,587.5 976.5,588.5 983.5,587.5 997.5,587.5 1004.5,588.5 1007.5,588.5" fill="none" stroke="#66dd00" stroke-width="1"/>
<polyline points="563.5,588.5 565.5,588.5 572.5,589.5 579.5,588.5 593.5,588.5 601.5,589.5 608.5,588.5 678.5,588.5 686.5,589.5 714.5,589.5 721.5,588.5 728.5,589.5 735.5,588.5 742.5,589.5 749.5,588.5 756.5,588.5 763.5,589.5 770.5,588.5 778.5,589.5 785.5,588.5 792.5,588.5 799.5,589.5 806.5,589.5 813.5,588.5 834.5,588.5 841.5,589.5 877.5,589.5 884.5,588.5 898.5,588.5 905.5,589.5 933.5,589.5 940.5,588.5 969.5,588.5 976.5,589.5 997.5,589.5 1004.5,588.5 1007.5,589.5" fill="none" stroke="#ff4422" stroke-width="1"/>
<polyline points="563.5,589.5 608.5,589.5 615.5,588.5 622.5,589.5 629.5,589.5 636.5,588.5 664.5,588.5 671.5,589.5 678.5,588.5 693.5,588.5 700.5,589.5 707.5,588.5 714.5,589.5 721.5,588.5 756.5,588.5 763.5,589.5 806.5,589.5 813.5,588.5 820.5,588.5 827.5,589.5 834.5,589.5 841.5,588.5 848.5,589.5 855.5,588.5 863.5,589.5 919.5,589.5 926.5,588.5 969.5,588.5 976.5,589.5 983.5,589.5 990.5,588.5 997.5,589.5 1004.5,588.5 1007.5,589.5" fill="none" stroke="#ee8866" stroke-width="1"/>
<polyline points="563.5,590.5 565.5,589.5 572.5,589.5 579.5,590.5 586.5,589.5 608.5,589.5 615.5,590.5 622.5,589.5 629.5,589.5 636.5,590.5 643.5,590.5 650.5,589.5 657.5,590.5 678.5,590.5 686.5,589.5 693.5,589.5 700.5,590.5 707.5,590.5 714.5,589.5 742.5,589.5 749.5,590.5 756.5,589.5 806.5,589.5 813.5,590.5 855.5,590.5 863.5,589.5 870.5,590.5 877.5,589.5 884.5,589.5 891.5,590.5 898.5,589.5 912.5,589.5 919.5,590.5 926.5,589.5 933.5,589.5 940.5,590.5 947.5,590.5 955.5,589.5 962.5,590.5 969.5,589.5 1004.5,589.5 1007.5,590.5" fill="none" stroke="#b0206a" stroke-width="1"/>
<polyline points="563.5,590.5 572.5,590.5 579.5,589.5 586.5,590.5 629.5,590.5 636.5,589.5 643.5,589.5 650.5,590.5 671.5,590.5 678.5,589.5 714.5,589.5 721.5,590.5 728.5,589.5 749.5,589.5 756.5,590.5 770.5,590.5 778.5,589.5 813.5,589.5 820.5,590.5 834.5,590.5 841.5,589.5 891.5,589.5 898.5,590.5 905.5,589.5 969.5,589.5 976.5,590.5 983.5,589.5 997.5,589.5 1004.5,590.5 1007.5,589.5" fill="none" stroke="#dd5522" stroke-width="1"/>
<polyline points="563.5,591.5 565.5,590.5 579.5,590.5 586.5,591.5 593.5,590.5 601.5,591.5 608.5,590.5 615.5,591.5 622.5,591.5 629.5,590.5 636.5,590.5 643.5,591.5 650.5,591.5 657.5,590.5 714.5,590.5 721.5,591.5 728.5,590.5 813.5,590.5 820.5,591.5 827.5,591.5 834.5,590.5 855.5,590.5 863.5,591.5 870.5,590.5 877.5,591.5 962.5,591.5 969.5,590.5 976.5,591.5 983.5,590.5 1004.5,590.5 1007.5,591.5" fill="none" stroke="#cc4422" stroke-width="1"/>
<polyline points="563.5,592.5 565.5,591.5 572.5,592.5 593.5,592.5 601.5,591.5 608.5,592.5 629.5,592.5 636.5,591.5 650.5,591.5 657.5,592.5 664.5,591.5 671.5,591.5 678.5,592.5 714.5,592.5 721.5,591.5 749.5,591.5 756.5,592.5 763.5,591.5 799.5,591.5 806.5,592.5 813.5,591.5 820.5,591.5 827.5,592.5 834.5,591.5 841.5,592.5 863.5,592.5 870.5,591.5 898.5,591.5 905.5,592.5 919.5,592.5 926.5,591.5 933.5,591.5 940.5,592.5 947.5,591.5 997.5,591.5 1004.5,592.5 1007.5,591.5" fill="none" stroke="#779900" stroke-width="1"/>
<polyline points="563.5,574.7 590.5,574.7 592.5,576.8 620.5,576.8 623.5,578.2 685.5,578.2 687.5,577.2 720.5,577.2 725.5,576.5 760.5,575.5 838.5,568.5 860.5,569.2 870.5,573.5 874.5,578.0 1007.5,577.5" fill="none" stroke="#000" stroke-width="1"/>
<polyline points="563.5,577.0 720.5,577.0 760.5,573.0 838.5,565.5 868.0,565.5 874.5,578.0" fill="none" stroke="#662233" stroke-width="1"/>
<polyline points="800.5,576.6 887.5,576.6" fill="none" stroke="#cc44bb" stroke-width="1"/>
<polyline points="563.5,594.0 760.5,595.5 858.5,595.5 877.5,590.8 1007.5,592.5" fill="none" stroke="#886655" stroke-width="1"/>
<polyline points="880.5,592.5 890.5,593.2 940.5,592.0 1007.5,593.0" fill="none" stroke="#779900" stroke-width="1"/>
<line x1="15" y1="555.5" x2="548" y2="555.5" stroke="#000"/>
<line x1="563" y1="555.5" x2="1008" y2="555.5" stroke="#000"/>
<line x1="15" y1="562.5" x2="548" y2="562.5" stroke="#000"/>
<line x1="563" y1="562.5" x2="1008" y2="562.5" stroke="#000"/>
<line x1="15" y1="577.5" x2="548" y2="577.5" stroke="#000"/>
<line x1="563" y1="577.5" x2="1008" y2="577.5" stroke="#000"/>
<line x1="20" y1="630.5" x2="548" y2="630.5" stroke="#996666"/>
<line x1="558" y1="630.5" x2="1004" y2="630.5" stroke="#996666"/>
<line x1="20" y1="637.5" x2="548" y2="637.5" stroke="#996666"/>
<line x1="558" y1="637.5" x2="1004" y2="637.5" stroke="#996666"/>
<polyline points="20.5,640.5 45.5,640.5 48.0,641.0 105.5,641.0 108.0,639.8 130.5,639.0 135.5,640.2 170.5,641.5 183.0,646.5 193.0,646.0 200.5,640.5 220.5,639.8 233.0,641.0 238.0,639.0 276.5,637.5 276.5,637.5 310.2,639.0 331.5,639.0 335.2,640.2 364.0,640.2 381.5,641.0 411.5,641.0 421.5,638.5 429.0,636.5 471.5,636.5 476.5,638.5 484.0,643.0 491.5,644.0 499.0,639.8 514.0,639.0 532.5,638.5 547.5,638.5" fill="none" stroke="#008c00" stroke-width="1"/>
<polyline points="20.5,639.5 30.5,638.5 45.5,638.5 47.5,640.0 63.0,641.0 95.5,640.5 106.8,639.0 130.5,638.5 138.0,641.0 158.0,642.2 170.5,643.5 180.5,644.8 185.5,645.5 195.5,643.0 203.0,639.0 276.5,637.5 276.5,637.5 311.5,638.5 336.5,639.5 364.0,640.0 389.0,639.5 416.5,639.5 429.0,636.0 476.5,636.0 486.5,639.0 532.5,638.5 547.5,638.5" fill="none" stroke="#008c00" stroke-width="1"/>
<polyline points="20.5,638.5 45.5,638.5 47.5,640.5 105.5,640.0 106.8,637.2 130.5,637.2 133.0,639.8 138.0,640.5 160.5,640.5 180.5,642.2 183.0,644.8 193.0,644.8 200.5,639.0 220.5,637.2 276.5,636.0 276.5,636.0 310.2,637.2 335.2,637.2 336.5,638.5 364.0,639.0 389.0,638.5 414.0,638.5 421.5,636.8 429.0,634.8 476.5,634.8 481.5,637.2 496.5,636.8 532.5,636.8 547.5,636.5" fill="none" stroke="#000000" stroke-width="1"/>
<polyline points="558.5,640.0 565.5,638.5 595.5,638.5 600.5,636.8 608.0,636.8 615.5,639.2 630.5,641.8 638.0,645.5 645.5,644.5 665.5,643.5 675.5,641.0 710.5,641.0 720.5,645.0 730.5,645.0 738.0,643.5 756.5,643.5 768.5,641.8 782.2,663.0 806.0,663.0 813.5,659.2 831.0,661.0 873.5,663.0 878.5,659.2 886.0,645.5 893.5,645.0 908.5,648.0 993.5,650.5 1003.5,652.8" fill="none" stroke="#008c00" stroke-width="1"/>
<polyline points="558.5,639.0 565.5,638.0 600.5,637.5 615.5,638.5 630.5,640.5 638.0,643.5 663.0,643.5 675.5,640.0 710.5,640.0 720.5,643.0 756.5,642.5 768.5,641.0 782.2,661.8 806.0,662.0 813.5,658.5 873.5,662.0 878.5,658.5 886.0,643.5 893.5,643.5 908.5,647.0 993.5,649.0 1003.5,650.9" fill="none" stroke="#008c00" stroke-width="1"/>
<polyline points="558.5,637.5 565.5,636.0 580.5,636.0 583.0,635.0 610.5,635.0 618.0,636.8 630.5,639.2 638.0,642.5 663.0,642.5 675.5,639.2 680.5,637.5 713.0,637.5 720.5,640.5 730.5,640.5 738.0,640.0 756.5,640.0 768.5,640.5 776.0,653.0 782.2,660.0 808.5,660.5 813.5,658.0 818.5,657.0 831.0,658.5 873.5,660.0 876.0,658.0 886.0,639.8 893.5,639.8 901.0,641.8 908.5,646.8 928.5,646.8 931.0,643.0 941.0,644.2 1003.5,648.0" fill="none" stroke="#000000" stroke-width="1"/>
<line x1="20" y1="708.5" x2="548" y2="708.5" stroke="#996666"/>
<line x1="563" y1="708.5" x2="1004" y2="708.5" stroke="#996666"/>
<line x1="20" y1="715.5" x2="548" y2="715.5" stroke="#996666"/>
<line x1="563" y1="715.5" x2="1004" y2="715.5" stroke="#996666"/>
<polyline points="20.5,723.0 25.5,722.0 35.5,722.0 45.5,723.5 70.5,724.0 120.5,724.5 170.5,725.0 180.5,725.5 190.5,725.5 200.5,723.0 233.0,721.2 245.5,719.0 276.5,719.0 276.5,720.0 301.5,721.2 346.5,721.2 359.0,723.0 384.0,723.0 399.0,727.5 411.5,724.5 426.5,723.5 456.5,723.5 484.0,726.2 501.5,724.5 532.5,724.5 547.5,724.5" fill="none" stroke="#008c00" stroke-width="1"/>
<polyline points="20.5,723.5 35.5,722.5 45.5,724.0 95.5,724.5 170.5,725.5 185.5,726.2 193.0,725.0 200.5,723.5 233.0,721.8 245.5,719.5 276.5,719.5 276.5,720.5 301.5,722.0 346.5,721.5 359.0,724.0 384.0,723.5 399.0,728.0 411.5,725.0 426.5,724.0 456.5,724.0 484.0,726.5 501.5,725.0 532.5,725.0 547.5,725.5" fill="none" stroke="#008c00" stroke-width="1"/>
<polyline points="20.5,740.5 29.2,738.5 35.5,740.5 45.5,743.8 70.5,743.8 85.5,741.2 95.5,744.5 108.0,744.5 115.5,743.0 120.5,738.8 133.0,740.0 208.0,740.0 220.5,738.0 245.5,736.8 255.5,735.0 270.5,735.0 276.5,736.2 276.5,736.2 306.5,735.0 346.5,732.5 351.5,735.5 376.5,737.5 389.0,739.5 426.5,739.5 441.5,737.5 466.5,742.5 496.5,743.8 521.5,740.5 532.5,743.8 547.5,744.5" fill="none" stroke="#000000" stroke-width="1"/>
<polyline points="20.5,743.8 33.0,742.5 45.5,743.8 70.5,742.5 80.5,741.2 120.5,740.5 170.5,739.2 220.5,737.5 258.0,736.2 276.5,736.2 276.5,737.5 291.5,738.8 301.5,736.2 346.5,735.0 351.5,736.2 396.5,742.5 426.5,742.5 441.5,738.0 471.5,742.5 501.5,742.0 526.5,742.5 532.5,742.5 547.5,743.4" fill="none" stroke="#000000" stroke-width="1"/>
<polyline points="563.5,726.2 582.5,723.8 592.5,720.5 607.5,718.8 622.5,718.8 632.5,722.0 645.0,723.5 670.0,723.5 682.5,722.5 707.5,722.5 720.0,725.0 732.5,722.5 752.5,722.5 768.5,723.2 778.5,725.8 793.5,725.8 803.5,717.0 811.0,715.0 816.0,715.0 823.5,717.5 868.5,717.5 878.5,714.5 888.5,710.0 898.5,710.0 918.5,714.0 938.5,710.0 953.5,710.0 963.5,713.2 983.5,715.0 1003.5,716.4" fill="none" stroke="#008c00" stroke-width="1"/>
<polyline points="563.5,727.0 582.5,724.5 592.5,721.2 622.5,719.5 632.5,722.5 645.0,724.0 682.5,723.5 707.5,723.5 722.5,726.0 732.5,723.5 768.5,724.0 781.0,726.5 793.5,726.5 803.5,718.0 811.0,716.0 823.5,718.5 853.5,719.0 868.5,719.0 878.5,715.5 888.5,711.0 898.5,711.0 918.5,715.0 938.5,711.0 953.5,711.5 963.5,714.0 983.5,716.0 1003.5,717.0" fill="none" stroke="#008c00" stroke-width="1"/>
<polyline points="563.5,747.0 582.5,745.0 607.5,744.5 632.5,744.5 645.0,742.0 657.5,743.8 692.5,743.8 702.5,740.0 720.0,743.0 732.5,744.5 757.5,744.5 768.5,744.5 783.5,744.5 798.5,744.5 808.5,742.5 848.5,743.2 868.5,739.5 883.5,736.5 898.5,736.5 908.5,740.8 923.5,741.5 938.5,738.5 958.5,742.0 983.5,743.8 1003.5,742.5" fill="none" stroke="#000000" stroke-width="1"/>
<polyline points="563.5,745.5 645.0,743.0 657.5,745.5 695.0,745.5 702.5,742.0 722.5,743.8 757.5,743.0 767.5,745.5 768.5,749.5 781.0,746.5 793.5,745.0 813.5,749.5 853.5,749.5 873.5,745.0 898.5,744.0 908.5,746.5 928.5,746.5 938.5,743.8 948.5,746.5 968.5,747.0 978.5,750.0 993.5,749.5 1003.5,747.9" fill="none" stroke="#000000" stroke-width="1"/>
<line x1="20" y1="888.5" x2="548" y2="888.5" stroke="#996666"/>
<line x1="558" y1="888.5" x2="1004" y2="888.5" stroke="#996666"/>
<line x1="20" y1="895.5" x2="548" y2="895.5" stroke="#996666"/>
<line x1="558" y1="895.5" x2="1004" y2="895.5" stroke="#996666"/>
<polyline points="20.5,903.5 35.5,900.0 43.0,901.8 50.5,908.0 70.5,908.0 75.5,906.8 93.0,906.8 98.0,905.0 130.5,905.0 138.0,910.0 160.5,910.5 180.5,910.5 185.5,911.0 195.5,909.2 205.5,905.0 215.5,905.0 233.0,905.5 270.5,903.5 276.5,903.5 276.5,903.5 316.5,905.0 334.0,908.0 341.5,910.0 406.5,910.0 419.0,906.0 439.0,904.2 451.5,902.5 471.5,901.0 479.0,903.0 486.5,907.5 496.5,907.5 506.5,904.2 532.5,903.5 547.5,904.4" fill="none" stroke="#0022cc" stroke-width="1"/>
<polyline points="20.5,904.2 35.5,901.0 45.5,903.0 50.5,908.5 95.5,907.5 130.5,906.0 138.0,910.5 160.5,911.8 183.0,914.2 195.5,911.8 205.5,905.5 220.5,906.8 230.5,910.0 240.5,905.5 276.5,904.2 276.5,904.2 316.5,905.5 406.5,910.0 410.2,913.0 416.5,908.0 451.5,901.8 466.5,900.5 481.5,903.5 532.5,904.0 547.5,905.4" fill="none" stroke="#0022cc" stroke-width="1"/>
<polyline points="20.5,900.0 28.0,898.5 35.5,896.8 40.5,896.8 45.5,900.0 50.5,904.2 70.5,905.0 78.0,903.0 88.0,904.2 95.5,902.2 108.0,901.0 130.5,901.0 140.5,907.5 150.5,904.2 158.0,903.0 165.5,905.5 175.5,905.0 183.0,910.5 193.0,909.2 200.5,901.8 210.5,896.8 218.0,903.0 233.0,903.0 258.0,901.8 270.5,898.5 276.5,899.2 276.5,899.2 314.0,900.5 319.0,903.0 349.0,903.5 361.5,907.5 371.5,905.0 409.0,905.5 421.5,904.2 439.0,903.0 446.5,898.5 464.0,896.8 476.5,899.2 484.0,903.0 494.0,904.2 506.5,902.5 532.5,901.0 547.5,902.4" fill="none" stroke="#000000" stroke-width="1"/>
<polyline points="20.5,901.8 35.5,897.5 45.5,901.0 50.5,905.0 95.5,903.5 130.5,902.5 140.5,908.0 195.5,908.0 208.0,899.2 213.0,901.8 233.0,903.5 276.5,900.5 276.5,901.0 316.5,902.0 401.5,906.8 416.5,905.5 446.5,900.5 466.5,898.5 481.5,902.5 532.5,902.5 547.5,903.4" fill="none" stroke="#000000" stroke-width="1"/>
<polyline points="558.8,906.8 582.5,905.0 607.5,903.5 632.5,905.0 640.0,909.5 657.5,907.5 670.0,906.0 680.0,903.5 707.5,904.5 722.5,906.0 762.5,906.0 772.5,915.5 781.0,924.2 806.0,926.0 814.8,918.5 828.5,925.0 868.5,925.0 878.5,885.5 886.0,879.2 898.5,880.0 911.0,885.0 928.5,884.2 938.5,881.0 986.0,882.5 996.0,886.8 1003.5,886.1" fill="none" stroke="#0022cc" stroke-width="1"/>
<polyline points="558.8,905.5 607.5,904.2 632.5,905.5 640.0,908.5 670.0,906.8 682.5,904.5 722.5,905.5 762.5,905.5 771.2,913.0 781.0,926.0 806.0,927.5 814.8,919.5 828.5,926.0 868.5,926.5 881.0,882.5 893.5,881.8 911.0,885.5 928.5,885.0 943.5,882.0 986.0,883.5 1003.5,889.7" fill="none" stroke="#0022cc" stroke-width="1"/>
<polyline points="558.8,903.5 570.0,901.8 590.0,900.5 602.5,900.5 607.5,901.5 632.5,901.5 637.5,906.0 647.5,904.5 662.5,903.8 672.5,902.5 680.0,898.5 687.5,899.2 697.5,902.5 712.5,902.5 717.5,904.0 757.5,904.0 767.5,903.5 777.5,920.5 782.2,927.5 793.5,928.0 806.0,925.5 814.8,918.0 821.0,918.5 833.5,921.8 851.0,922.5 868.5,926.0 876.0,900.5 883.5,880.5 891.0,872.5 898.5,875.5 908.5,881.8 928.5,883.0 933.5,879.2 943.5,878.0 953.5,881.0 986.0,881.8 993.5,885.5 1003.5,886.7" fill="none" stroke="#000000" stroke-width="1"/>
<polyline points="558.8,904.2 632.5,903.0 640.0,908.0 650.0,905.5 672.5,904.2 682.5,901.0 697.5,903.0 757.5,904.5 770.0,908.0 780.0,925.5 783.5,928.5 806.0,926.8 816.0,919.5 833.5,923.0 868.5,927.0 878.5,898.0 888.5,876.0 898.5,874.2 908.5,880.5 928.5,881.8 938.5,878.5 986.0,882.5 1003.5,887.3" fill="none" stroke="#000000" stroke-width="1"/>
<line x1="20" y1="965.5" x2="548" y2="965.5" stroke="#996666"/>
<line x1="563" y1="965.5" x2="1004" y2="965.5" stroke="#996666"/>
<line x1="20" y1="972.5" x2="548" y2="972.5" stroke="#996666"/>
<line x1="563" y1="972.5" x2="1004" y2="972.5" stroke="#996666"/>
<polyline points="20.5,986.8 38.0,987.5 50.5,988.5 95.5,989.2 133.0,989.5 145.5,988.5 158.0,988.0 165.5,986.2 183.0,986.0 220.5,985.5 245.5,983.5 260.5,981.5 276.5,981.0 276.5,981.0 291.5,983.5 351.5,985.0 386.5,987.5 401.5,990.0 416.5,988.5 426.5,986.0 441.5,984.2 464.0,986.0 481.5,988.5 501.5,987.5 532.5,986.0 547.5,986.0" fill="none" stroke="#0022cc" stroke-width="1"/>
<polyline points="20.5,989.2 50.5,989.2 133.0,989.2 158.0,988.0 185.5,987.0 220.5,986.5 245.5,984.2 276.5,982.5 276.5,981.8 351.5,985.5 386.5,986.8 406.5,989.2 426.5,986.5 456.5,985.5 484.0,988.0 532.5,986.8 547.5,986.5" fill="none" stroke="#0022cc" stroke-width="1"/>
<polyline points="20.5,998.5 35.5,996.8 70.5,996.8 75.5,999.2 95.5,1000.5 103.0,1002.5 110.5,998.5 120.5,996.5 145.5,997.5 160.5,998.0 170.5,991.0 175.5,991.8 183.0,998.0 220.5,996.8 228.0,994.8 245.5,995.5 265.5,993.8 276.5,995.0 276.5,994.2 284.0,998.0 326.5,995.0 334.0,993.8 349.0,993.8 356.5,998.0 386.5,998.0 401.5,1001.8 411.5,998.5 431.5,995.5 441.5,990.0 449.0,991.0 456.5,996.8 476.5,997.5 484.0,1001.0 501.5,1000.0 532.5,998.0 547.5,998.5" fill="none" stroke="#000000" stroke-width="1"/>
<polyline points="20.5,998.0 45.5,998.5 50.5,1000.5 70.5,1000.0 80.5,1001.8 100.5,1004.2 108.0,1000.5 120.5,998.0 158.0,1000.0 170.5,994.2 180.5,995.5 195.5,996.8 220.5,995.5 233.0,996.8 270.5,994.5 276.5,994.5 276.5,995.5 301.5,998.5 351.5,995.5 389.0,1000.0 401.5,1000.5 426.5,997.5 441.5,992.5 451.5,994.2 461.5,999.2 484.0,1001.8 532.5,998.5 547.5,1000.4" fill="none" stroke="#000000" stroke-width="1"/>
<polyline points="563.5,986.0 582.5,985.0 592.5,981.8 602.5,980.0 622.5,981.0 632.5,984.2 657.5,985.0 672.5,983.5 687.5,984.2 722.5,986.8 732.5,984.2 757.5,984.2 767.5,987.5 788.5,988.0 791.0,985.0 796.0,980.5 808.5,979.2 818.5,979.2 843.5,980.5 868.5,979.2 883.5,975.5 893.5,976.0 903.5,980.0 918.5,980.0 933.5,973.5 943.5,974.2 963.5,980.5 993.5,981.8 1003.5,982.4" fill="none" stroke="#0022cc" stroke-width="1"/>
<polyline points="563.5,986.8 587.5,984.2 607.5,984.2 652.5,985.5 707.5,985.0 757.5,984.2 768.5,988.0 791.0,988.5 796.0,982.5 818.5,980.5 843.5,981.8 868.5,980.5 881.0,979.2 903.5,980.5 923.5,980.0 938.5,978.5 948.5,982.5 963.5,983.5 1003.5,985.0" fill="none" stroke="#0022cc" stroke-width="1"/>
<polyline points="563.5,996.8 577.5,1000.0 587.5,1000.0 597.5,996.0 642.5,995.5 655.0,1002.5 667.5,1000.5 692.5,1000.0 707.5,997.5 732.5,997.5 742.5,1000.0 768.5,1000.5 788.5,995.5 796.0,983.5 808.5,986.8 818.5,987.5 828.5,996.8 843.5,998.0 856.0,999.2 876.0,999.2 883.5,991.0 893.5,991.8 906.0,998.0 921.0,996.8 926.0,990.0 933.5,989.2 943.5,994.2 968.5,996.8 1003.5,1001.6" fill="none" stroke="#000000" stroke-width="1"/>
<polyline points="563.5,996.0 597.5,997.5 642.5,996.8 657.5,1000.5 732.5,1000.0 742.5,1003.0 768.5,1003.0 781.0,1000.0 791.0,998.0 798.5,993.0 818.5,994.2 828.5,996.8 856.0,1003.0 873.5,1001.8 883.5,994.2 893.5,994.2 908.5,999.2 918.5,998.5 933.5,990.5 948.5,995.5 1003.5,1001.7" fill="none" stroke="#000000" stroke-width="1"/>
<line x1="20" y1="1145.5" x2="548" y2="1145.5" stroke="#996666"/>
<line x1="558" y1="1145.5" x2="1004" y2="1145.5" stroke="#996666"/>
<line x1="20" y1="1152.5" x2="548" y2="1152.5" stroke="#996666"/>
<line x1="558" y1="1152.5" x2="1004" y2="1152.5" stroke="#996666"/>
<polyline points="20.5,1133.5 35.5,1131.0 43.0,1130.5 50.5,1138.5 70.5,1137.5 80.5,1135.5 90.5,1137.5 95.5,1135.0 130.5,1135.0 140.5,1140.0 155.5,1136.8 164.2,1141.8 173.0,1137.5 190.5,1143.0 205.5,1133.5 220.5,1134.2 240.5,1132.5 255.5,1133.5 276.5,1130.5 276.5,1130.5 284.0,1132.0 316.5,1132.0 321.5,1134.5 339.0,1134.2 349.0,1135.0 359.0,1136.0 371.5,1135.0 389.0,1135.0 404.0,1137.5 421.5,1133.0 439.0,1131.8 461.5,1131.0 466.5,1130.0 476.5,1131.0 486.5,1136.0 494.0,1137.5 501.5,1134.2 516.5,1132.5 532.5,1132.5 532.5,1132.0 547.5,1134.1" fill="none" stroke="#b80000" stroke-width="1"/>
<polyline points="20.5,1134.0 35.5,1132.0 43.0,1131.5 50.5,1139.0 70.5,1138.0 80.5,1136.0 95.5,1135.5 130.5,1135.5 140.5,1140.5 155.5,1137.0 173.0,1138.0 190.5,1143.5 205.5,1134.0 220.5,1135.0 255.5,1134.0 276.5,1131.5 276.5,1131.5 316.5,1132.5 321.5,1135.0 359.0,1136.5 389.0,1135.5 404.0,1138.0 421.5,1133.5 461.5,1131.5 476.5,1131.5 486.5,1136.5 494.0,1138.0 516.5,1133.0 532.5,1133.0 532.5,1132.5 547.5,1134.4" fill="none" stroke="#b80000" stroke-width="1"/>
<polyline points="20.5,1132.5 30.5,1131.0 35.5,1130.0 43.0,1130.0 50.5,1138.0 70.5,1138.0 78.0,1135.0 83.0,1134.2 90.5,1138.0 95.5,1135.5 108.0,1134.2 130.5,1135.5 140.5,1141.8 155.5,1135.5 163.0,1139.2 170.5,1137.5 180.5,1139.2 188.0,1142.5 195.5,1141.8 205.5,1133.0 213.0,1132.5 220.5,1136.0 240.5,1131.8 255.5,1133.5 270.5,1129.2 276.5,1130.5 276.5,1130.0 284.0,1132.5 316.5,1131.8 321.5,1133.5 346.5,1133.0 359.0,1136.0 371.5,1134.2 396.5,1134.2 404.0,1138.0 411.5,1137.5 421.5,1132.5 439.0,1131.0 461.5,1131.0 466.5,1129.2 476.5,1131.0 486.5,1136.8 494.0,1138.0 501.5,1133.0 516.5,1131.0 532.5,1131.8 532.5,1131.5 547.5,1133.8" fill="none" stroke="#000000" stroke-width="1"/>
<polyline points="558.8,1136.0 607.5,1130.5 617.5,1134.2 632.5,1135.0 638.8,1143.5 652.5,1140.0 662.5,1140.0 672.5,1138.0 680.0,1131.8 697.5,1137.5 712.5,1137.5 722.5,1140.0 740.0,1138.5 767.5,1138.0 777.5,1155.5 783.5,1161.0 798.5,1161.8 818.5,1155.0 833.5,1161.8 868.5,1161.0 878.5,1158.0 893.5,1148.0 903.5,1156.8 918.5,1155.5 928.5,1152.5 938.5,1150.5 963.5,1150.5 978.5,1151.2 993.5,1157.5 1003.5,1158.4" fill="none" stroke="#b80000" stroke-width="1"/>
<polyline points="558.8,1136.5 607.5,1131.0 617.5,1135.0 632.5,1136.0 638.8,1144.0 657.5,1141.8 672.5,1139.0 680.0,1132.5 697.5,1138.0 722.5,1140.5 767.5,1139.0 776.2,1153.0 782.5,1160.5 783.5,1162.5 818.5,1156.8 833.5,1163.5 878.5,1160.5 893.5,1150.5 903.5,1155.0 928.5,1153.5 938.5,1152.0 978.5,1152.5 993.5,1158.5 1003.5,1159.9" fill="none" stroke="#b80000" stroke-width="1"/>
<polyline points="558.8,1135.5 582.5,1132.5 597.5,1130.5 607.5,1129.2 615.0,1131.8 632.5,1132.5 638.8,1143.0 650.0,1138.5 657.5,1137.5 672.5,1136.8 680.0,1131.0 687.5,1132.5 702.5,1136.0 712.5,1136.0 720.0,1138.5 730.0,1138.0 740.0,1135.0 767.5,1136.8 772.5,1143.0 776.0,1148.0 783.5,1158.0 798.5,1159.2 818.5,1151.8 833.5,1158.0 863.5,1158.5 878.5,1154.2 888.5,1146.8 893.5,1145.5 903.5,1149.2 918.5,1153.0 928.5,1149.2 938.5,1146.8 953.5,1148.8 978.5,1148.5 993.5,1153.0 1003.5,1155.3" fill="none" stroke="#000000" stroke-width="1"/>
<line x1="20" y1="1222.5" x2="548" y2="1222.5" stroke="#996666"/>
<line x1="563" y1="1222.5" x2="1004" y2="1222.5" stroke="#996666"/>
<line x1="20" y1="1229.5" x2="548" y2="1229.5" stroke="#996666"/>
<line x1="563" y1="1229.5" x2="1004" y2="1229.5" stroke="#996666"/>
<polyline points="20.5,1243.5 30.5,1243.0 45.5,1245.0 70.5,1247.5 100.5,1248.5 120.5,1246.8 145.5,1248.0 170.5,1248.5 195.5,1246.8 220.5,1246.0 245.5,1245.0 260.5,1243.5 276.5,1243.5 276.5,1243.5 296.5,1245.5 306.5,1244.2 326.5,1241.0 344.0,1241.0 351.5,1243.5 376.5,1245.0 391.5,1248.5 401.5,1252.5 411.5,1249.2 439.0,1247.5 456.5,1247.5 476.5,1250.5 486.5,1251.8 501.5,1250.5 532.5,1250.0 547.5,1250.0" fill="none" stroke="#b80000" stroke-width="1"/>
<polyline points="20.5,1244.2 53.0,1246.8 70.5,1249.2 95.5,1248.0 160.5,1249.2 195.5,1247.5 276.5,1244.2 276.5,1245.0 301.5,1246.8 326.5,1242.5 389.0,1248.0 401.5,1252.5 421.5,1249.2 451.5,1248.0 481.5,1252.5 532.5,1250.5 547.5,1250.5" fill="none" stroke="#b80000" stroke-width="1"/>
<polyline points="20.5,1246.8 30.5,1245.5 40.5,1249.2 53.0,1252.5 70.5,1253.5 100.5,1253.0 120.5,1251.8 133.0,1253.0 170.5,1253.5 185.5,1255.0 195.5,1253.0 220.5,1251.0 245.5,1249.2 260.5,1246.0 276.5,1250.0 276.5,1248.5 296.5,1250.5 306.5,1243.0 321.5,1239.2 326.5,1236.8 346.5,1236.8 356.5,1240.0 376.5,1241.0 391.5,1245.5 401.5,1255.0 426.5,1253.5 451.5,1251.8 476.5,1252.5 501.5,1251.8 532.5,1251.8 547.5,1253.4" fill="none" stroke="#000000" stroke-width="1"/>
<polyline points="20.5,1247.5 40.5,1250.5 60.5,1254.2 83.0,1252.5 120.5,1252.5 160.5,1255.0 175.5,1256.0 190.5,1255.0 210.5,1251.8 240.5,1248.5 260.5,1246.8 276.5,1248.0 276.5,1250.5 286.5,1252.5 296.5,1252.5 301.5,1248.0 321.5,1243.5 351.5,1241.8 371.5,1244.2 391.5,1249.2 401.5,1256.0 416.5,1255.0 451.5,1253.5 476.5,1255.0 532.5,1253.0 547.5,1254.4" fill="none" stroke="#000000" stroke-width="1"/>
<polyline points="563.5,1250.5 582.5,1248.5 607.5,1241.8 622.5,1241.0 637.5,1245.5 647.5,1245.0 662.5,1247.5 682.5,1243.5 707.5,1241.0 732.5,1240.0 757.5,1238.0 768.5,1240.0 788.5,1241.8 798.5,1236.8 811.0,1230.5 818.5,1231.0 831.0,1235.5 853.5,1237.5 868.5,1236.0 893.5,1228.5 903.5,1231.0 918.5,1234.2 928.5,1232.5 938.5,1226.8 948.5,1229.2 963.5,1233.5 983.5,1233.0 1003.5,1235.4" fill="none" stroke="#b80000" stroke-width="1"/>
<polyline points="563.5,1250.5 662.5,1246.8 682.5,1246.0 707.5,1243.0 732.5,1241.8 757.5,1239.2 768.5,1241.8 788.5,1242.5 808.5,1233.5 818.5,1234.2 831.0,1240.0 843.5,1236.8 856.0,1240.0 873.5,1234.2 893.5,1229.2 903.5,1233.0 923.5,1233.0 938.5,1228.5 953.5,1230.5 958.5,1235.0 1003.5,1235.0" fill="none" stroke="#b80000" stroke-width="1"/>
<polyline points="563.5,1256.8 585.0,1256.8 592.5,1253.5 607.5,1251.0 627.5,1252.5 637.5,1255.5 657.5,1255.0 682.5,1255.0 692.5,1250.5 707.5,1249.2 717.5,1252.5 732.5,1248.5 745.0,1248.0 762.5,1248.5 768.5,1250.5 783.5,1251.8 798.5,1248.0 811.0,1243.0 828.5,1247.5 843.5,1250.0 868.5,1249.2 883.5,1246.8 893.5,1243.0 908.5,1247.5 923.5,1249.2 933.5,1243.0 943.5,1243.0 948.5,1250.5 963.5,1248.0 973.5,1249.2 1003.5,1252.9" fill="none" stroke="#000000" stroke-width="1"/>
<polyline points="563.5,1256.0 607.5,1252.5 637.5,1253.5 662.5,1256.0 687.5,1253.0 722.5,1250.5 737.5,1250.5 768.5,1251.8 783.5,1251.0 798.5,1249.2 811.0,1243.5 828.5,1248.5 856.0,1252.5 883.5,1248.0 893.5,1245.5 923.5,1250.5 938.5,1246.0 948.5,1250.5 968.5,1250.5 993.5,1255.5 1003.5,1253.6" fill="none" stroke="#000000" stroke-width="1"/>
<line x1="20" y1="1403.5" x2="548" y2="1403.5" stroke="#996666"/>
<line x1="558" y1="1403.5" x2="1004" y2="1403.5" stroke="#996666"/>
<line x1="20" y1="1410.5" x2="548" y2="1410.5" stroke="#996666"/>
<line x1="558" y1="1410.5" x2="1004" y2="1410.5" stroke="#996666"/>
<polyline points="20.5,1393.5 35.5,1392.5 45.5,1392.5 60.5,1396.8 75.5,1395.0 95.5,1393.5 130.5,1393.5 138.0,1396.0 170.5,1396.8 183.0,1400.5 195.5,1396.8 208.0,1392.5 245.5,1391.8 260.5,1390.0 276.5,1389.5 276.5,1390.0 296.5,1390.0 321.5,1391.8 341.5,1394.2 381.5,1395.5 406.5,1396.0 416.5,1392.5 426.5,1390.0 471.5,1390.0 484.0,1392.5 501.5,1391.8 532.5,1391.0 547.5,1392.4" fill="none" stroke="#c4d406" stroke-width="1"/>
<polyline points="20.5,1395.0 45.5,1393.5 60.5,1397.5 95.5,1395.0 130.5,1395.0 138.0,1396.8 170.5,1398.0 183.0,1401.0 195.5,1397.5 208.0,1393.5 276.5,1391.0 276.5,1391.0 351.5,1395.0 406.5,1396.8 416.5,1394.2 431.5,1391.0 476.5,1391.8 489.0,1393.5 532.5,1391.8 547.5,1393.4" fill="none" stroke="#c4d406" stroke-width="1"/>
<polyline points="20.5,1403.0 30.5,1401.8 40.5,1402.5 50.5,1408.5 70.5,1408.5 80.5,1405.5 90.5,1404.2 115.5,1404.2 130.5,1405.0 138.0,1409.2 150.5,1407.5 160.5,1410.0 170.5,1407.5 178.0,1410.0 185.5,1416.0 193.0,1413.5 200.5,1405.5 210.5,1403.0 225.5,1403.5 240.5,1401.0 255.5,1403.0 265.5,1400.0 276.5,1399.2 276.5,1400.0 301.5,1400.0 316.5,1401.0 326.5,1404.2 341.5,1406.0 401.5,1406.8 411.5,1406.8 419.0,1403.0 431.5,1401.8 466.5,1401.0 476.5,1403.0 484.0,1408.5 496.5,1406.8 506.5,1403.0 532.5,1401.8 547.5,1402.5" fill="none" stroke="#000000" stroke-width="1"/>
<polyline points="20.5,1405.0 45.5,1405.0 53.0,1409.2 70.5,1409.2 95.5,1406.0 130.5,1405.0 140.5,1410.0 160.5,1409.2 180.5,1409.2 195.5,1408.0 205.5,1405.5 220.5,1406.0 245.5,1405.0 260.5,1403.0 276.5,1401.0 276.5,1401.0 316.5,1402.5 326.5,1405.0 401.5,1405.5 409.0,1407.5 416.5,1404.2 431.5,1402.5 471.5,1402.5 481.5,1406.8 489.0,1407.5 501.5,1404.2 514.0,1402.5 532.5,1402.5 547.5,1403.4" fill="none" stroke="#000000" stroke-width="1"/>
<polyline points="558.8,1392.5 602.5,1391.0 622.5,1393.0 632.5,1395.0 640.0,1399.2 652.5,1396.8 672.5,1395.0 707.5,1395.5 732.5,1396.0 767.5,1396.8 768.5,1396.8 776.0,1420.5 783.5,1425.5 803.5,1425.5 813.5,1423.5 823.5,1425.0 843.5,1425.0 873.5,1423.5 883.5,1415.5 891.0,1411.8 918.5,1411.8 938.5,1409.2 978.5,1410.0 993.5,1413.0 1003.5,1414.9" fill="none" stroke="#c4d406" stroke-width="1"/>
<polyline points="558.8,1393.0 627.5,1394.2 640.0,1400.5 657.5,1398.0 682.5,1396.0 717.5,1397.5 732.5,1398.0 767.5,1397.5 768.5,1398.0 776.0,1423.0 783.5,1429.2 813.5,1428.0 843.5,1431.8 876.0,1428.0 886.0,1414.2 893.5,1412.5 1003.5,1415.5" fill="none" stroke="#c4d406" stroke-width="1"/>
<polyline points="558.8,1404.2 582.5,1402.5 627.5,1401.8 637.5,1406.0 657.5,1405.0 667.5,1403.5 682.5,1400.5 697.5,1402.5 707.5,1402.5 722.5,1405.0 757.5,1405.0 765.0,1405.5 768.5,1408.0 776.0,1429.2 783.5,1433.0 803.5,1433.0 816.0,1430.0 828.5,1433.0 868.5,1431.8 878.5,1428.0 886.0,1414.2 893.5,1415.0 908.5,1419.2 918.5,1420.5 938.5,1415.5 953.5,1418.0 983.5,1419.2 996.0,1423.5 1003.5,1423.0" fill="none" stroke="#000000" stroke-width="1"/>
<polyline points="558.8,1404.2 632.5,1403.5 640.0,1406.8 667.5,1404.2 682.5,1402.5 707.5,1403.5 757.5,1405.0 768.5,1413.0 776.0,1430.5 786.0,1438.0 806.0,1438.5 818.5,1434.2 828.5,1438.0 876.0,1436.8 886.0,1421.8 908.5,1424.2 926.0,1423.5 938.5,1418.0 958.5,1418.5 983.5,1418.5 998.5,1424.2 1003.5,1424.5" fill="none" stroke="#000000" stroke-width="1"/>
<line x1="20" y1="1480.5" x2="548" y2="1480.5" stroke="#996666"/>
<line x1="563" y1="1480.5" x2="1004" y2="1480.5" stroke="#996666"/>
<line x1="20" y1="1487.5" x2="548" y2="1487.5" stroke="#996666"/>
<line x1="563" y1="1487.5" x2="1004" y2="1487.5" stroke="#996666"/>
<polyline points="20.5,1485.0 30.5,1485.5 45.5,1491.8 60.5,1492.5 70.5,1490.5 85.5,1488.0 130.5,1488.0 170.5,1489.2 195.5,1488.0 208.0,1485.5 233.0,1483.5 250.5,1484.2 270.5,1485.0 276.5,1486.8 276.5,1488.0 299.0,1487.5 306.5,1481.0 326.5,1479.2 371.5,1480.0 381.5,1482.5 391.5,1486.8 401.5,1491.0 426.5,1490.5 440.5,1490.7 453.5,1491.6 489.5,1491.6 492.1,1489.8 531.9,1489.8 534.5,1490.7 547.5,1490.7" fill="none" stroke="#c4d406" stroke-width="1"/>
<polyline points="20.5,1489.2 45.5,1490.5 60.5,1493.5 85.5,1490.0 130.5,1490.0 160.5,1492.5 175.5,1496.8 190.5,1496.8 210.5,1496.0 235.5,1490.0 245.5,1485.5 270.5,1486.8 276.5,1488.0 276.5,1489.2 301.5,1486.8 309.0,1481.8 346.5,1481.0 376.5,1483.0 386.5,1485.5 401.5,1494.2 416.5,1493.0 440.5,1490.7 466.3,1492.5 480.5,1493.7 489.5,1493.7 496.5,1491.4 547.5,1490.7" fill="none" stroke="#c4d406" stroke-width="1"/>
<polyline points="20.5,1499.2 30.5,1498.0 45.5,1505.0 60.5,1506.8 85.5,1501.0 95.5,1500.5 103.0,1503.5 120.5,1501.8 145.5,1504.2 170.5,1505.5 195.5,1506.0 210.5,1504.2 230.5,1500.5 238.0,1490.5 240.5,1481.8 245.5,1481.0 265.5,1481.0 270.5,1484.2 276.5,1490.5 276.5,1490.0 291.5,1495.5 301.5,1494.2 311.5,1479.2 326.5,1476.8 346.5,1476.8 359.0,1479.2 381.5,1481.8 386.5,1486.8 391.5,1503.0 401.5,1509.2 411.5,1503.5 436.5,1500.0 440.5,1499.8 453.5,1499.8 459.3,1501.9 468.5,1505.1 487.5,1505.1 494.5,1500.7 524.9,1500.7 529.5,1502.7 536.5,1503.9 547.5,1503.9" fill="none" stroke="#000000" stroke-width="1"/>
<polyline points="20.5,1498.0 30.5,1497.5 45.5,1503.5 60.5,1507.5 85.5,1505.0 120.5,1505.0 145.5,1505.0 175.5,1508.0 205.5,1508.0 215.5,1503.5 233.0,1500.0 240.5,1495.0 250.5,1491.8 260.5,1491.0 276.5,1495.0 276.5,1493.5 286.5,1500.0 296.5,1504.2 301.5,1500.5 309.0,1489.2 326.5,1485.5 341.5,1481.0 351.5,1485.5 371.5,1489.2 381.5,1493.0 394.0,1505.5 401.5,1510.5 416.5,1510.5 436.5,1503.5 440.5,1501.5 456.5,1501.5 468.5,1505.7 474.5,1506.8 485.0,1506.8 492.1,1505.1 524.9,1505.1 531.9,1506.8 543.5,1507.8 547.5,1508.0" fill="none" stroke="#000000" stroke-width="1"/>
<polyline points="563.5,1490.5 582.5,1488.0 592.5,1485.5 607.5,1485.0 622.5,1486.8 632.5,1488.0 642.5,1488.5 682.5,1488.0 727.5,1487.5 737.5,1485.0 747.5,1484.2 767.5,1486.0 768.5,1486.8 793.5,1485.5 808.5,1485.0 826.0,1485.0 843.5,1486.8 868.5,1486.0 886.0,1485.0 893.5,1482.5 908.5,1483.5 923.5,1486.8 943.5,1486.8 963.5,1491.0 978.5,1489.2 993.5,1491.8 1003.5,1494.1" fill="none" stroke="#c4d406" stroke-width="1"/>
<polyline points="563.5,1491.0 582.5,1490.5 597.5,1488.5 622.5,1489.2 637.5,1495.0 662.5,1492.5 687.5,1491.0 722.5,1491.8 737.5,1489.2 768.5,1489.2 793.5,1489.2 826.0,1488.5 843.5,1490.0 868.5,1489.2 886.0,1485.5 893.5,1484.2 913.5,1486.0 943.5,1487.5 963.5,1491.8 1003.5,1494.2" fill="none" stroke="#c4d406" stroke-width="1"/>
<polyline points="563.5,1505.0 582.5,1505.0 590.0,1496.0 597.5,1495.0 620.0,1494.2 632.5,1501.8 647.5,1505.0 662.5,1506.0 682.5,1504.2 707.5,1501.0 732.5,1500.0 742.5,1499.2 762.5,1500.0 768.5,1503.0 791.0,1505.0 798.5,1501.8 811.0,1498.0 823.5,1499.2 843.5,1501.8 863.5,1503.5 873.5,1501.8 883.5,1493.0 893.5,1482.5 903.5,1483.5 913.5,1485.0 943.5,1489.2 963.5,1491.8 978.5,1492.5 988.5,1498.0 993.5,1506.8 1003.5,1508.4" fill="none" stroke="#000000" stroke-width="1"/>
<polyline points="563.5,1508.5 585.0,1508.5 592.5,1496.0 607.5,1495.0 622.5,1496.0 637.5,1503.5 657.5,1507.5 672.5,1507.5 707.5,1508.0 717.5,1516.5 725.0,1516.5 732.5,1505.5 742.5,1500.5 757.5,1500.0 768.5,1504.2 791.0,1505.5 806.0,1499.2 823.5,1499.2 843.5,1502.5 863.5,1504.2 873.5,1501.8 888.5,1490.5 893.5,1488.5 903.5,1493.0 918.5,1497.5 926.0,1500.5 938.5,1496.0 948.5,1498.0 978.5,1498.5 988.5,1501.8 993.5,1506.8 1003.5,1508.4" fill="none" stroke="#000000" stroke-width="1"/>
</svg>
</body></html>
